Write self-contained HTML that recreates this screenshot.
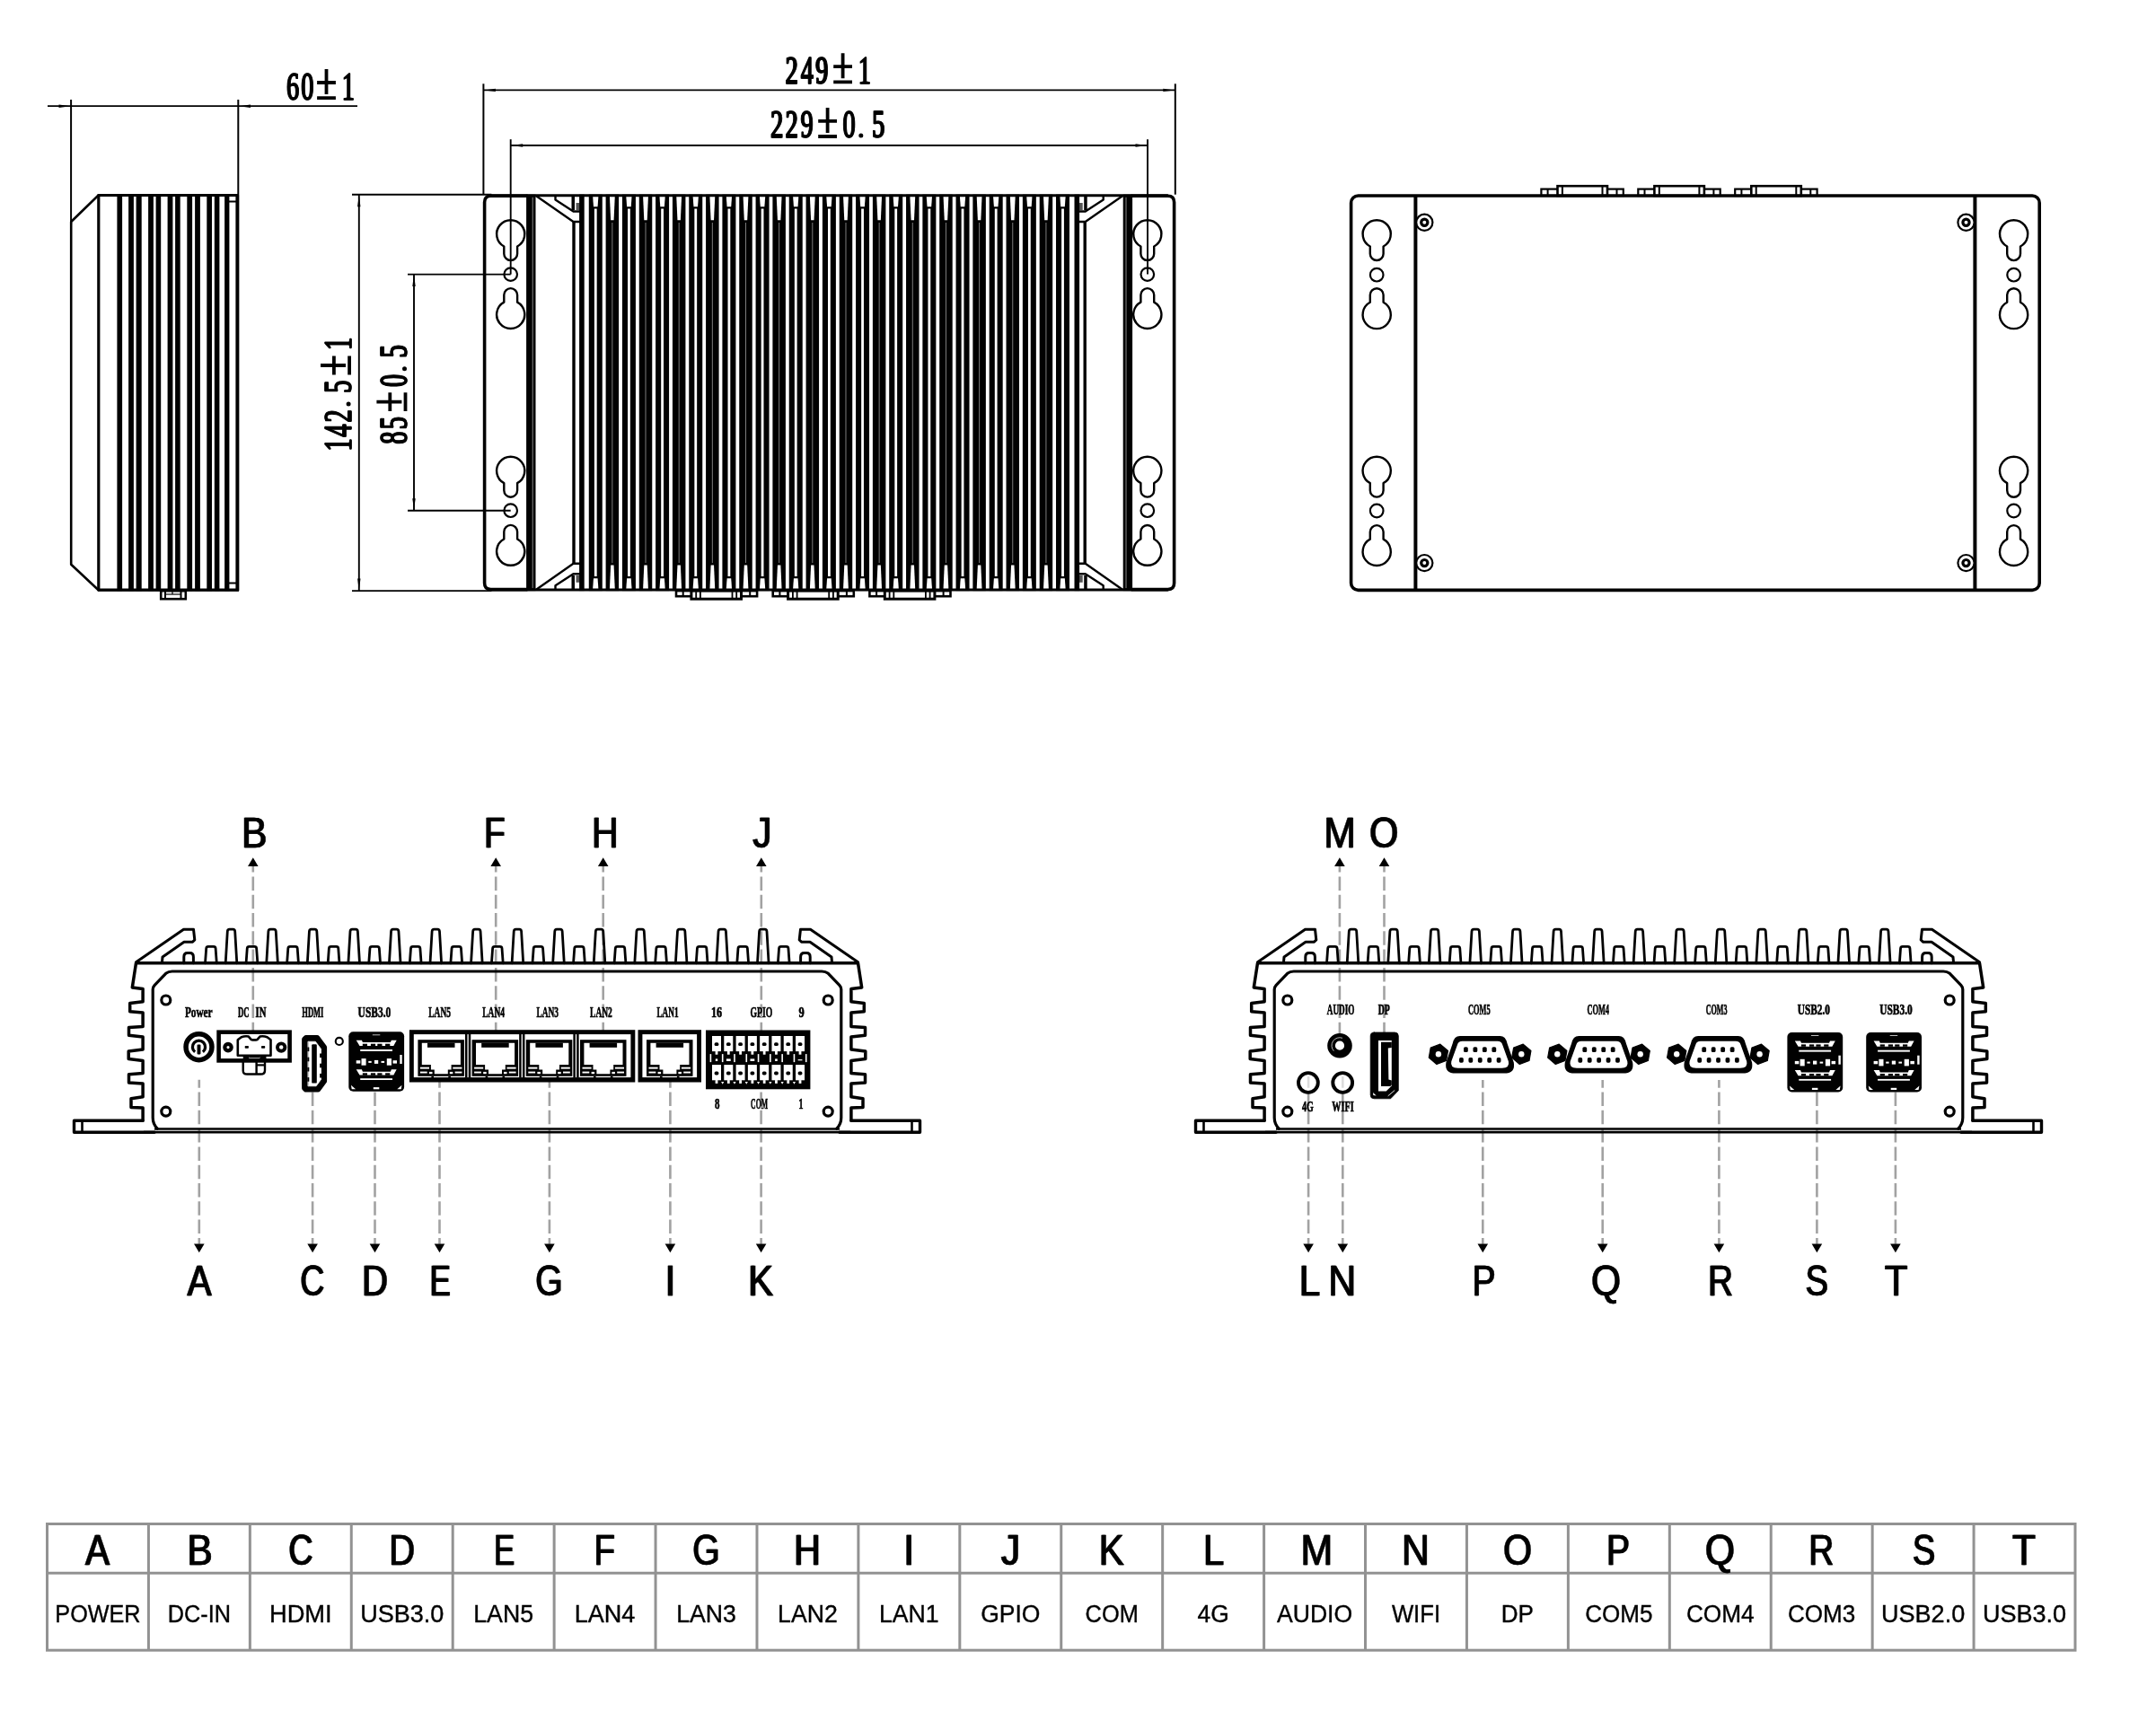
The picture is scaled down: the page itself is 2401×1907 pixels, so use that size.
<!DOCTYPE html>
<html><head><meta charset="utf-8"><title>Dimensions</title>
<style>html,body{margin:0;padding:0;background:#fff;}svg{display:block;font-family:"Liberation Sans",sans-serif;}</style>
</head><body>
<svg width="2401" height="1907" viewBox="0 0 2401 1907">
<rect width="2401" height="1907" fill="#fff"/>
<g opacity="0.999">
<line x1="53" y1="118.2" x2="398" y2="118.2" stroke="#000" stroke-width="1.8" />
<line x1="79.1" y1="111" x2="79.1" y2="250" stroke="#000" stroke-width="2" />
<line x1="265.3" y1="111" x2="265.3" y2="216.5" stroke="#000" stroke-width="2" />
<path d="M78.5 118.2 L65.5 116.5 L65.5 119.9 Z" fill="#000" stroke="none" stroke-width="0" stroke-linejoin="round" stroke-linecap="round" />
<path d="M266 118.2 L279 116.5 L279 119.9 Z" fill="#000" stroke="none" stroke-width="0" stroke-linejoin="round" stroke-linecap="round" />
<path d="M79.2 247 L109.6 217.5 L264.8 217.5 L264.8 657.2 L109.6 657.2 L79.2 628.8 Z" fill="none" stroke="#000" stroke-width="2.6" stroke-linejoin="round" stroke-linecap="round" />
<line x1="109.8" y1="216.5" x2="109.8" y2="658.2" stroke="#000" stroke-width="3.2" />
<line x1="109" y1="217.5" x2="266" y2="217.5" stroke="#000" stroke-width="3.2" />
<line x1="109" y1="657.2" x2="266" y2="657.2" stroke="#000" stroke-width="3.2" />
<rect x="130.4" y="216.5" width="5.7" height="441.7" fill="#000" stroke="none" stroke-width="0" rx="0" />
<rect x="143.1" y="216.5" width="5.8" height="441.7" fill="#000" stroke="none" stroke-width="0" rx="0" />
<rect x="151.6" y="216.5" width="6.1" height="441.7" fill="#000" stroke="none" stroke-width="0" rx="0" />
<rect x="165.1" y="216.5" width="5.8" height="441.7" fill="#000" stroke="none" stroke-width="0" rx="0" />
<rect x="173.6" y="216.5" width="5.6" height="441.7" fill="#000" stroke="none" stroke-width="0" rx="0" />
<rect x="186.6" y="216.5" width="5.8" height="441.7" fill="#000" stroke="none" stroke-width="0" rx="0" />
<rect x="195.1" y="216.5" width="5.6" height="441.7" fill="#000" stroke="none" stroke-width="0" rx="0" />
<rect x="208.3" y="216.5" width="5.8" height="441.7" fill="#000" stroke="none" stroke-width="0" rx="0" />
<rect x="217.1" y="216.5" width="5.8" height="441.7" fill="#000" stroke="none" stroke-width="0" rx="0" />
<rect x="230.3" y="216.5" width="5.7" height="441.7" fill="#000" stroke="none" stroke-width="0" rx="0" />
<rect x="238.8" y="216.5" width="5.6" height="441.7" fill="#000" stroke="none" stroke-width="0" rx="0" />
<rect x="250.1" y="216.5" width="5.3" height="441.7" fill="#000" stroke="none" stroke-width="0" rx="0" />
<rect x="262.4" y="216.5" width="3.9" height="441.7" fill="#000" stroke="none" stroke-width="0" rx="0" />
<line x1="255" y1="224.5" x2="264" y2="224.5" stroke="#000" stroke-width="2" />
<line x1="255" y1="649.5" x2="264" y2="649.5" stroke="#000" stroke-width="2" />
<rect x="179.2" y="658.2" width="27.6" height="9" fill="#fff" stroke="#000" stroke-width="2.6" rx="0" />
<line x1="184" y1="658.2" x2="184" y2="667" stroke="#000" stroke-width="2" />
<line x1="201.5" y1="658.2" x2="201.5" y2="667" stroke="#000" stroke-width="2" />
<line x1="184" y1="662" x2="201.5" y2="662" stroke="#000" stroke-width="1.2" />
<line x1="192" y1="658.2" x2="192" y2="662" stroke="#000" stroke-width="1.2" />
<text transform="translate(325.6 110.6) scale(0.615 1)" text-anchor="middle" font-family="Liberation Serif" font-size="45.3" fill="#000" stroke="#000" stroke-width="1.4" stroke-linejoin="round">6</text>
<text transform="translate(326.4 110.6) scale(0.615 1)" text-anchor="middle" font-family="Liberation Serif" font-size="45.3" fill="#000" stroke="#000" stroke-width="1.4" stroke-linejoin="round">6</text>
<text transform="translate(342 110.6) scale(0.615 1)" text-anchor="middle" font-family="Liberation Serif" font-size="45.3" fill="#000" stroke="#000" stroke-width="1.4" stroke-linejoin="round">0</text>
<text transform="translate(342.8 110.6) scale(0.615 1)" text-anchor="middle" font-family="Liberation Serif" font-size="45.3" fill="#000" stroke="#000" stroke-width="1.4" stroke-linejoin="round">0</text>
<path d="M353.1 92 H373.9 M363.5 77.1 V105.1 M353.1 109.2 H373.9" stroke="#000" stroke-width="3.8" fill="none"/>
<text transform="translate(387.4 110.6) scale(0.615 1)" text-anchor="middle" font-family="Liberation Serif" font-size="45.3" fill="#000" stroke="#000" stroke-width="1.4" stroke-linejoin="round">1</text>
<text transform="translate(388.2 110.6) scale(0.615 1)" text-anchor="middle" font-family="Liberation Serif" font-size="45.3" fill="#000" stroke="#000" stroke-width="1.4" stroke-linejoin="round">1</text>
<line x1="538.4" y1="93.3" x2="538.4" y2="216.7" stroke="#000" stroke-width="2" />
<line x1="1308.8" y1="93.3" x2="1308.8" y2="216.7" stroke="#000" stroke-width="2" />
<line x1="538.4" y1="100.4" x2="1308.8" y2="100.4" stroke="#000" stroke-width="1.9" />
<path d="M538.9 100.4 L551.9 98.7 L551.9 102.1 Z" fill="#000" stroke="none" stroke-width="0" stroke-linejoin="round" stroke-linecap="round" />
<path d="M1308.3 100.4 L1295.3 98.7 L1295.3 102.1 Z" fill="#000" stroke="none" stroke-width="0" stroke-linejoin="round" stroke-linecap="round" />
<line x1="568.7" y1="155.2" x2="568.7" y2="305.6" stroke="#000" stroke-width="1.9" />
<line x1="1278" y1="155.2" x2="1278" y2="305.6" stroke="#000" stroke-width="1.9" />
<line x1="568.7" y1="162" x2="1278" y2="162" stroke="#000" stroke-width="1.9" />
<path d="M569.2 162 L582.2 160.3 L582.2 163.7 Z" fill="#000" stroke="none" stroke-width="0" stroke-linejoin="round" stroke-linecap="round" />
<path d="M1277.5 162 L1264.5 160.3 L1264.5 163.7 Z" fill="#000" stroke="none" stroke-width="0" stroke-linejoin="round" stroke-linecap="round" />
<line x1="392" y1="216.7" x2="547.4" y2="216.7" stroke="#000" stroke-width="1.9" />
<line x1="392" y1="658.1" x2="547.4" y2="658.1" stroke="#000" stroke-width="1.9" />
<line x1="399.8" y1="216.7" x2="399.8" y2="658.1" stroke="#000" stroke-width="1.9" />
<path d="M399.8 217.2 L398.1 230.2 L401.5 230.2 Z" fill="#000" stroke="none" stroke-width="0" stroke-linejoin="round" stroke-linecap="round" />
<path d="M399.8 657.6 L398.1 644.6 L401.5 644.6 Z" fill="#000" stroke="none" stroke-width="0" stroke-linejoin="round" stroke-linecap="round" />
<line x1="454" y1="305.6" x2="568.7" y2="305.6" stroke="#000" stroke-width="1.9" />
<line x1="454" y1="568.7" x2="568.7" y2="568.7" stroke="#000" stroke-width="1.9" />
<line x1="461" y1="305.6" x2="461" y2="568.7" stroke="#000" stroke-width="1.9" />
<path d="M461 306 L459.3 319 L462.7 319 Z" fill="#000" stroke="none" stroke-width="0" stroke-linejoin="round" stroke-linecap="round" />
<path d="M461 568.3 L459.3 555.3 L462.7 555.3 Z" fill="#000" stroke="none" stroke-width="0" stroke-linejoin="round" stroke-linecap="round" />
<path d="M587 218.2 H546.6 Q539.6 218.2 539.6 225.2 V649.6 Q539.6 656.6 546.6 656.6 H587" fill="none" stroke="#000" stroke-width="3.6" stroke-linejoin="round" stroke-linecap="round" />
<rect x="586.1" y="216.7" width="10.4" height="441.4" fill="#000" stroke="none" stroke-width="0" rx="0" />
<line x1="593.2" y1="219.7" x2="593.2" y2="655.1" stroke="#8a8a8a" stroke-width="1" />
<path d="M576.1 274.53 A15.6 15.6 0 1 0 561.3 274.53 L561.3 282.7 A7.4 7.4 0 0 0 576.1 282.7 Z" fill="none" stroke="#000" stroke-width="2.4" stroke-linejoin="round" stroke-linecap="round" />
<circle cx="568.7" cy="305.6" r="7.3" fill="none" stroke="#000" stroke-width="2.2"/>
<path d="M576.1 336.67 A15.6 15.6 0 1 1 561.3 336.67 L561.3 328.5 A7.4 7.4 0 0 1 576.1 328.5 Z" fill="none" stroke="#000" stroke-width="2.4" stroke-linejoin="round" stroke-linecap="round" />
<path d="M576.1 538.13 A15.6 15.6 0 1 0 561.3 538.13 L561.3 546.3 A7.4 7.4 0 0 0 576.1 546.3 Z" fill="none" stroke="#000" stroke-width="2.4" stroke-linejoin="round" stroke-linecap="round" />
<circle cx="568.7" cy="568.7" r="7.3" fill="none" stroke="#000" stroke-width="2.2"/>
<path d="M576.1 600.47 A15.6 15.6 0 1 1 561.3 600.47 L561.3 592.3 A7.4 7.4 0 0 1 576.1 592.3 Z" fill="none" stroke="#000" stroke-width="2.4" stroke-linejoin="round" stroke-linecap="round" />
<path d="M597.5 218.4 L638.5 247 L646 247" fill="none" stroke="#000" stroke-width="2.4" stroke-linejoin="round" stroke-linecap="round" />
<path d="M618.5 218.4 L618.5 222.5 L638.5 235.5 L646 235.5" fill="none" stroke="#000" stroke-width="2.4" stroke-linejoin="round" stroke-linecap="round" />
<rect x="636.5" y="218" width="3.5" height="16" fill="#000" stroke="none" stroke-width="0" rx="0" />
<rect x="641.5" y="226" width="4" height="8" fill="#555" stroke="none" stroke-width="0" rx="0" />
<path d="M597.5 656.4 L638.5 627.8 L646 627.8" fill="none" stroke="#000" stroke-width="2.4" stroke-linejoin="round" stroke-linecap="round" />
<path d="M618.5 656.4 L618.5 652.3 L638.5 639.3 L646 639.3" fill="none" stroke="#000" stroke-width="2.4" stroke-linejoin="round" stroke-linecap="round" />
<rect x="636.5" y="640.8" width="3.5" height="16" fill="#000" stroke="none" stroke-width="0" rx="0" />
<rect x="641.5" y="640.8" width="4" height="8" fill="#555" stroke="none" stroke-width="0" rx="0" />
<path d="M1260.2 218.2 H1300.6 Q1307.6 218.2 1307.6 225.2 V649.6 Q1307.6 656.6 1300.6 656.6 H1260.2" fill="none" stroke="#000" stroke-width="3.6" stroke-linejoin="round" stroke-linecap="round" />
<rect x="1250.7" y="216.7" width="10.4" height="441.4" fill="#000" stroke="none" stroke-width="0" rx="0" />
<line x1="1254" y1="219.7" x2="1254" y2="655.1" stroke="#8a8a8a" stroke-width="1" />
<path d="M1285.2 274.53 A15.6 15.6 0 1 0 1270.4 274.53 L1270.4 282.7 A7.4 7.4 0 0 0 1285.2 282.7 Z" fill="none" stroke="#000" stroke-width="2.4" stroke-linejoin="round" stroke-linecap="round" />
<circle cx="1277.8" cy="305.6" r="7.3" fill="none" stroke="#000" stroke-width="2.2"/>
<path d="M1285.2 336.67 A15.6 15.6 0 1 1 1270.4 336.67 L1270.4 328.5 A7.4 7.4 0 0 1 1285.2 328.5 Z" fill="none" stroke="#000" stroke-width="2.4" stroke-linejoin="round" stroke-linecap="round" />
<path d="M1285.2 538.13 A15.6 15.6 0 1 0 1270.4 538.13 L1270.4 546.3 A7.4 7.4 0 0 0 1285.2 546.3 Z" fill="none" stroke="#000" stroke-width="2.4" stroke-linejoin="round" stroke-linecap="round" />
<circle cx="1277.8" cy="568.7" r="7.3" fill="none" stroke="#000" stroke-width="2.2"/>
<path d="M1285.2 600.47 A15.6 15.6 0 1 1 1270.4 600.47 L1270.4 592.3 A7.4 7.4 0 0 1 1285.2 592.3 Z" fill="none" stroke="#000" stroke-width="2.4" stroke-linejoin="round" stroke-linecap="round" />
<path d="M1249.7 218.4 L1208.7 247 L1201.2 247" fill="none" stroke="#000" stroke-width="2.4" stroke-linejoin="round" stroke-linecap="round" />
<path d="M1228.7 218.4 L1228.7 222.5 L1208.7 235.5 L1201.2 235.5" fill="none" stroke="#000" stroke-width="2.4" stroke-linejoin="round" stroke-linecap="round" />
<rect x="1207.2" y="218" width="3.5" height="16" fill="#000" stroke="none" stroke-width="0" rx="0" />
<rect x="1201.7" y="226" width="4" height="8" fill="#555" stroke="none" stroke-width="0" rx="0" />
<path d="M1249.7 656.4 L1208.7 627.8 L1201.2 627.8" fill="none" stroke="#000" stroke-width="2.4" stroke-linejoin="round" stroke-linecap="round" />
<path d="M1228.7 656.4 L1228.7 652.3 L1208.7 639.3 L1201.2 639.3" fill="none" stroke="#000" stroke-width="2.4" stroke-linejoin="round" stroke-linecap="round" />
<rect x="1207.2" y="640.8" width="3.5" height="16" fill="#000" stroke="none" stroke-width="0" rx="0" />
<rect x="1201.7" y="640.8" width="4" height="8" fill="#555" stroke="none" stroke-width="0" rx="0" />
<line x1="546.4" y1="217.7" x2="1300.8" y2="217.7" stroke="#000" stroke-width="3" />
<line x1="546.4" y1="657.1" x2="1300.8" y2="657.1" stroke="#000" stroke-width="3" />
<rect x="637.3" y="247" width="3.4" height="381" fill="#000" stroke="none" stroke-width="0" rx="0" />
<rect x="645.1" y="216.7" width="5.6" height="441.4" fill="#000" stroke="none" stroke-width="0" rx="0" />
<rect x="1206.5" y="247" width="3.4" height="381" fill="#000" stroke="none" stroke-width="0" rx="0" />
<rect x="1196.5" y="216.7" width="5.6" height="441.4" fill="#000" stroke="none" stroke-width="0" rx="0" />
<rect x="674.6" y="216.7" width="14.5" height="441.4" fill="#000" stroke="none" stroke-width="0" rx="0" />
<path d="M678.95 219.2 L684.75 219.2 L683.55 245.2 L680.15 245.2 Z" fill="#fff" stroke="none" stroke-width="0" stroke-linejoin="round" stroke-linecap="round" />
<path d="M678.95 655.6 L684.75 655.6 L683.55 629.4 L680.15 629.4 Z" fill="#fff" stroke="none" stroke-width="0" stroke-linejoin="round" stroke-linecap="round" />
<line x1="681.85" y1="248" x2="681.85" y2="627" stroke="#8c8c8c" stroke-width="0.9" />
<rect x="711.76" y="216.7" width="14.5" height="441.4" fill="#000" stroke="none" stroke-width="0" rx="0" />
<path d="M716.11 219.2 L721.91 219.2 L720.71 245.2 L717.31 245.2 Z" fill="#fff" stroke="none" stroke-width="0" stroke-linejoin="round" stroke-linecap="round" />
<path d="M716.11 655.6 L721.91 655.6 L720.71 629.4 L717.31 629.4 Z" fill="#fff" stroke="none" stroke-width="0" stroke-linejoin="round" stroke-linecap="round" />
<line x1="719.01" y1="248" x2="719.01" y2="627" stroke="#8c8c8c" stroke-width="0.9" />
<rect x="748.92" y="216.7" width="14.5" height="441.4" fill="#000" stroke="none" stroke-width="0" rx="0" />
<path d="M753.27 219.2 L759.07 219.2 L757.87 245.2 L754.47 245.2 Z" fill="#fff" stroke="none" stroke-width="0" stroke-linejoin="round" stroke-linecap="round" />
<path d="M753.27 655.6 L759.07 655.6 L757.87 629.4 L754.47 629.4 Z" fill="#fff" stroke="none" stroke-width="0" stroke-linejoin="round" stroke-linecap="round" />
<line x1="756.17" y1="248" x2="756.17" y2="627" stroke="#8c8c8c" stroke-width="0.9" />
<rect x="786.08" y="216.7" width="14.5" height="441.4" fill="#000" stroke="none" stroke-width="0" rx="0" />
<path d="M790.43 219.2 L796.23 219.2 L795.03 245.2 L791.63 245.2 Z" fill="#fff" stroke="none" stroke-width="0" stroke-linejoin="round" stroke-linecap="round" />
<path d="M790.43 655.6 L796.23 655.6 L795.03 629.4 L791.63 629.4 Z" fill="#fff" stroke="none" stroke-width="0" stroke-linejoin="round" stroke-linecap="round" />
<line x1="793.33" y1="248" x2="793.33" y2="627" stroke="#8c8c8c" stroke-width="0.9" />
<rect x="823.24" y="216.7" width="14.5" height="441.4" fill="#000" stroke="none" stroke-width="0" rx="0" />
<path d="M827.59 219.2 L833.39 219.2 L832.19 245.2 L828.79 245.2 Z" fill="#fff" stroke="none" stroke-width="0" stroke-linejoin="round" stroke-linecap="round" />
<path d="M827.59 655.6 L833.39 655.6 L832.19 629.4 L828.79 629.4 Z" fill="#fff" stroke="none" stroke-width="0" stroke-linejoin="round" stroke-linecap="round" />
<line x1="830.49" y1="248" x2="830.49" y2="627" stroke="#8c8c8c" stroke-width="0.9" />
<rect x="860.4" y="216.7" width="14.5" height="441.4" fill="#000" stroke="none" stroke-width="0" rx="0" />
<path d="M864.75 219.2 L870.55 219.2 L869.35 245.2 L865.95 245.2 Z" fill="#fff" stroke="none" stroke-width="0" stroke-linejoin="round" stroke-linecap="round" />
<path d="M864.75 655.6 L870.55 655.6 L869.35 629.4 L865.95 629.4 Z" fill="#fff" stroke="none" stroke-width="0" stroke-linejoin="round" stroke-linecap="round" />
<line x1="867.65" y1="248" x2="867.65" y2="627" stroke="#8c8c8c" stroke-width="0.9" />
<rect x="897.56" y="216.7" width="14.5" height="441.4" fill="#000" stroke="none" stroke-width="0" rx="0" />
<path d="M901.91 219.2 L907.71 219.2 L906.51 245.2 L903.11 245.2 Z" fill="#fff" stroke="none" stroke-width="0" stroke-linejoin="round" stroke-linecap="round" />
<path d="M901.91 655.6 L907.71 655.6 L906.51 629.4 L903.11 629.4 Z" fill="#fff" stroke="none" stroke-width="0" stroke-linejoin="round" stroke-linecap="round" />
<line x1="904.81" y1="248" x2="904.81" y2="627" stroke="#8c8c8c" stroke-width="0.9" />
<rect x="934.72" y="216.7" width="14.5" height="441.4" fill="#000" stroke="none" stroke-width="0" rx="0" />
<path d="M939.07 219.2 L944.87 219.2 L943.67 245.2 L940.27 245.2 Z" fill="#fff" stroke="none" stroke-width="0" stroke-linejoin="round" stroke-linecap="round" />
<path d="M939.07 655.6 L944.87 655.6 L943.67 629.4 L940.27 629.4 Z" fill="#fff" stroke="none" stroke-width="0" stroke-linejoin="round" stroke-linecap="round" />
<line x1="941.97" y1="248" x2="941.97" y2="627" stroke="#8c8c8c" stroke-width="0.9" />
<rect x="971.88" y="216.7" width="14.5" height="441.4" fill="#000" stroke="none" stroke-width="0" rx="0" />
<path d="M976.23 219.2 L982.03 219.2 L980.83 245.2 L977.43 245.2 Z" fill="#fff" stroke="none" stroke-width="0" stroke-linejoin="round" stroke-linecap="round" />
<path d="M976.23 655.6 L982.03 655.6 L980.83 629.4 L977.43 629.4 Z" fill="#fff" stroke="none" stroke-width="0" stroke-linejoin="round" stroke-linecap="round" />
<line x1="979.13" y1="248" x2="979.13" y2="627" stroke="#8c8c8c" stroke-width="0.9" />
<rect x="1009.04" y="216.7" width="14.5" height="441.4" fill="#000" stroke="none" stroke-width="0" rx="0" />
<path d="M1013.39 219.2 L1019.19 219.2 L1017.99 245.2 L1014.59 245.2 Z" fill="#fff" stroke="none" stroke-width="0" stroke-linejoin="round" stroke-linecap="round" />
<path d="M1013.39 655.6 L1019.19 655.6 L1017.99 629.4 L1014.59 629.4 Z" fill="#fff" stroke="none" stroke-width="0" stroke-linejoin="round" stroke-linecap="round" />
<line x1="1016.29" y1="248" x2="1016.29" y2="627" stroke="#8c8c8c" stroke-width="0.9" />
<rect x="1046.2" y="216.7" width="14.5" height="441.4" fill="#000" stroke="none" stroke-width="0" rx="0" />
<path d="M1050.55 219.2 L1056.35 219.2 L1055.15 245.2 L1051.75 245.2 Z" fill="#fff" stroke="none" stroke-width="0" stroke-linejoin="round" stroke-linecap="round" />
<path d="M1050.55 655.6 L1056.35 655.6 L1055.15 629.4 L1051.75 629.4 Z" fill="#fff" stroke="none" stroke-width="0" stroke-linejoin="round" stroke-linecap="round" />
<line x1="1053.45" y1="248" x2="1053.45" y2="627" stroke="#8c8c8c" stroke-width="0.9" />
<rect x="1083.36" y="216.7" width="14.5" height="441.4" fill="#000" stroke="none" stroke-width="0" rx="0" />
<path d="M1087.71 219.2 L1093.51 219.2 L1092.31 245.2 L1088.91 245.2 Z" fill="#fff" stroke="none" stroke-width="0" stroke-linejoin="round" stroke-linecap="round" />
<path d="M1087.71 655.6 L1093.51 655.6 L1092.31 629.4 L1088.91 629.4 Z" fill="#fff" stroke="none" stroke-width="0" stroke-linejoin="round" stroke-linecap="round" />
<line x1="1090.61" y1="248" x2="1090.61" y2="627" stroke="#8c8c8c" stroke-width="0.9" />
<rect x="1120.52" y="216.7" width="14.5" height="441.4" fill="#000" stroke="none" stroke-width="0" rx="0" />
<path d="M1124.87 219.2 L1130.67 219.2 L1129.47 245.2 L1126.07 245.2 Z" fill="#fff" stroke="none" stroke-width="0" stroke-linejoin="round" stroke-linecap="round" />
<path d="M1124.87 655.6 L1130.67 655.6 L1129.47 629.4 L1126.07 629.4 Z" fill="#fff" stroke="none" stroke-width="0" stroke-linejoin="round" stroke-linecap="round" />
<line x1="1127.77" y1="248" x2="1127.77" y2="627" stroke="#8c8c8c" stroke-width="0.9" />
<rect x="1157.68" y="216.7" width="14.5" height="441.4" fill="#000" stroke="none" stroke-width="0" rx="0" />
<path d="M1162.03 219.2 L1167.83 219.2 L1166.63 245.2 L1163.23 245.2 Z" fill="#fff" stroke="none" stroke-width="0" stroke-linejoin="round" stroke-linecap="round" />
<path d="M1162.03 655.6 L1167.83 655.6 L1166.63 629.4 L1163.23 629.4 Z" fill="#fff" stroke="none" stroke-width="0" stroke-linejoin="round" stroke-linecap="round" />
<line x1="1164.93" y1="248" x2="1164.93" y2="627" stroke="#8c8c8c" stroke-width="0.9" />
<rect x="655.77" y="216.7" width="15" height="441.4" fill="#000" stroke="none" stroke-width="0" rx="0" />
<rect x="661.87" y="232.5" width="2.8" height="409.5" fill="#fff" stroke="none" stroke-width="0" rx="0" />
<path d="M660.17 219.2 L666.37 219.2 L665.57 230.3 L660.97 230.3 Z" fill="#fff" stroke="none" stroke-width="0" stroke-linejoin="round" stroke-linecap="round" />
<path d="M660.17 655.6 L666.37 655.6 L665.57 644.2 L660.97 644.2 Z" fill="#fff" stroke="none" stroke-width="0" stroke-linejoin="round" stroke-linecap="round" />
<rect x="692.93" y="216.7" width="15" height="441.4" fill="#000" stroke="none" stroke-width="0" rx="0" />
<rect x="699.03" y="232.5" width="2.8" height="409.5" fill="#fff" stroke="none" stroke-width="0" rx="0" />
<path d="M697.33 219.2 L703.53 219.2 L702.73 230.3 L698.13 230.3 Z" fill="#fff" stroke="none" stroke-width="0" stroke-linejoin="round" stroke-linecap="round" />
<path d="M697.33 655.6 L703.53 655.6 L702.73 644.2 L698.13 644.2 Z" fill="#fff" stroke="none" stroke-width="0" stroke-linejoin="round" stroke-linecap="round" />
<rect x="730.09" y="216.7" width="15" height="441.4" fill="#000" stroke="none" stroke-width="0" rx="0" />
<rect x="736.19" y="232.5" width="2.8" height="409.5" fill="#fff" stroke="none" stroke-width="0" rx="0" />
<path d="M734.49 219.2 L740.69 219.2 L739.89 230.3 L735.29 230.3 Z" fill="#fff" stroke="none" stroke-width="0" stroke-linejoin="round" stroke-linecap="round" />
<path d="M734.49 655.6 L740.69 655.6 L739.89 644.2 L735.29 644.2 Z" fill="#fff" stroke="none" stroke-width="0" stroke-linejoin="round" stroke-linecap="round" />
<rect x="767.25" y="216.7" width="15" height="441.4" fill="#000" stroke="none" stroke-width="0" rx="0" />
<rect x="773.35" y="232.5" width="2.8" height="409.5" fill="#fff" stroke="none" stroke-width="0" rx="0" />
<path d="M771.65 219.2 L777.85 219.2 L777.05 230.3 L772.45 230.3 Z" fill="#fff" stroke="none" stroke-width="0" stroke-linejoin="round" stroke-linecap="round" />
<path d="M771.65 655.6 L777.85 655.6 L777.05 644.2 L772.45 644.2 Z" fill="#fff" stroke="none" stroke-width="0" stroke-linejoin="round" stroke-linecap="round" />
<rect x="804.41" y="216.7" width="15" height="441.4" fill="#000" stroke="none" stroke-width="0" rx="0" />
<rect x="810.51" y="232.5" width="2.8" height="409.5" fill="#fff" stroke="none" stroke-width="0" rx="0" />
<path d="M808.81 219.2 L815.01 219.2 L814.21 230.3 L809.61 230.3 Z" fill="#fff" stroke="none" stroke-width="0" stroke-linejoin="round" stroke-linecap="round" />
<path d="M808.81 655.6 L815.01 655.6 L814.21 644.2 L809.61 644.2 Z" fill="#fff" stroke="none" stroke-width="0" stroke-linejoin="round" stroke-linecap="round" />
<rect x="841.57" y="216.7" width="15" height="441.4" fill="#000" stroke="none" stroke-width="0" rx="0" />
<rect x="847.67" y="232.5" width="2.8" height="409.5" fill="#fff" stroke="none" stroke-width="0" rx="0" />
<path d="M845.97 219.2 L852.17 219.2 L851.37 230.3 L846.77 230.3 Z" fill="#fff" stroke="none" stroke-width="0" stroke-linejoin="round" stroke-linecap="round" />
<path d="M845.97 655.6 L852.17 655.6 L851.37 644.2 L846.77 644.2 Z" fill="#fff" stroke="none" stroke-width="0" stroke-linejoin="round" stroke-linecap="round" />
<rect x="878.73" y="216.7" width="15" height="441.4" fill="#000" stroke="none" stroke-width="0" rx="0" />
<rect x="884.83" y="232.5" width="2.8" height="409.5" fill="#fff" stroke="none" stroke-width="0" rx="0" />
<path d="M883.13 219.2 L889.33 219.2 L888.53 230.3 L883.93 230.3 Z" fill="#fff" stroke="none" stroke-width="0" stroke-linejoin="round" stroke-linecap="round" />
<path d="M883.13 655.6 L889.33 655.6 L888.53 644.2 L883.93 644.2 Z" fill="#fff" stroke="none" stroke-width="0" stroke-linejoin="round" stroke-linecap="round" />
<rect x="915.89" y="216.7" width="15" height="441.4" fill="#000" stroke="none" stroke-width="0" rx="0" />
<rect x="921.99" y="232.5" width="2.8" height="409.5" fill="#fff" stroke="none" stroke-width="0" rx="0" />
<path d="M920.29 219.2 L926.49 219.2 L925.69 230.3 L921.09 230.3 Z" fill="#fff" stroke="none" stroke-width="0" stroke-linejoin="round" stroke-linecap="round" />
<path d="M920.29 655.6 L926.49 655.6 L925.69 644.2 L921.09 644.2 Z" fill="#fff" stroke="none" stroke-width="0" stroke-linejoin="round" stroke-linecap="round" />
<rect x="953.05" y="216.7" width="15" height="441.4" fill="#000" stroke="none" stroke-width="0" rx="0" />
<rect x="959.15" y="232.5" width="2.8" height="409.5" fill="#fff" stroke="none" stroke-width="0" rx="0" />
<path d="M957.45 219.2 L963.65 219.2 L962.85 230.3 L958.25 230.3 Z" fill="#fff" stroke="none" stroke-width="0" stroke-linejoin="round" stroke-linecap="round" />
<path d="M957.45 655.6 L963.65 655.6 L962.85 644.2 L958.25 644.2 Z" fill="#fff" stroke="none" stroke-width="0" stroke-linejoin="round" stroke-linecap="round" />
<rect x="990.21" y="216.7" width="15" height="441.4" fill="#000" stroke="none" stroke-width="0" rx="0" />
<rect x="996.31" y="232.5" width="2.8" height="409.5" fill="#fff" stroke="none" stroke-width="0" rx="0" />
<path d="M994.61 219.2 L1000.81 219.2 L1000.01 230.3 L995.41 230.3 Z" fill="#fff" stroke="none" stroke-width="0" stroke-linejoin="round" stroke-linecap="round" />
<path d="M994.61 655.6 L1000.81 655.6 L1000.01 644.2 L995.41 644.2 Z" fill="#fff" stroke="none" stroke-width="0" stroke-linejoin="round" stroke-linecap="round" />
<rect x="1027.37" y="216.7" width="15" height="441.4" fill="#000" stroke="none" stroke-width="0" rx="0" />
<rect x="1033.47" y="232.5" width="2.8" height="409.5" fill="#fff" stroke="none" stroke-width="0" rx="0" />
<path d="M1031.77 219.2 L1037.97 219.2 L1037.17 230.3 L1032.57 230.3 Z" fill="#fff" stroke="none" stroke-width="0" stroke-linejoin="round" stroke-linecap="round" />
<path d="M1031.77 655.6 L1037.97 655.6 L1037.17 644.2 L1032.57 644.2 Z" fill="#fff" stroke="none" stroke-width="0" stroke-linejoin="round" stroke-linecap="round" />
<rect x="1064.53" y="216.7" width="15" height="441.4" fill="#000" stroke="none" stroke-width="0" rx="0" />
<rect x="1070.63" y="232.5" width="2.8" height="409.5" fill="#fff" stroke="none" stroke-width="0" rx="0" />
<path d="M1068.93 219.2 L1075.13 219.2 L1074.33 230.3 L1069.73 230.3 Z" fill="#fff" stroke="none" stroke-width="0" stroke-linejoin="round" stroke-linecap="round" />
<path d="M1068.93 655.6 L1075.13 655.6 L1074.33 644.2 L1069.73 644.2 Z" fill="#fff" stroke="none" stroke-width="0" stroke-linejoin="round" stroke-linecap="round" />
<rect x="1101.69" y="216.7" width="15" height="441.4" fill="#000" stroke="none" stroke-width="0" rx="0" />
<rect x="1107.79" y="232.5" width="2.8" height="409.5" fill="#fff" stroke="none" stroke-width="0" rx="0" />
<path d="M1106.09 219.2 L1112.29 219.2 L1111.49 230.3 L1106.89 230.3 Z" fill="#fff" stroke="none" stroke-width="0" stroke-linejoin="round" stroke-linecap="round" />
<path d="M1106.09 655.6 L1112.29 655.6 L1111.49 644.2 L1106.89 644.2 Z" fill="#fff" stroke="none" stroke-width="0" stroke-linejoin="round" stroke-linecap="round" />
<rect x="1138.85" y="216.7" width="15" height="441.4" fill="#000" stroke="none" stroke-width="0" rx="0" />
<rect x="1144.95" y="232.5" width="2.8" height="409.5" fill="#fff" stroke="none" stroke-width="0" rx="0" />
<path d="M1143.25 219.2 L1149.45 219.2 L1148.65 230.3 L1144.05 230.3 Z" fill="#fff" stroke="none" stroke-width="0" stroke-linejoin="round" stroke-linecap="round" />
<path d="M1143.25 655.6 L1149.45 655.6 L1148.65 644.2 L1144.05 644.2 Z" fill="#fff" stroke="none" stroke-width="0" stroke-linejoin="round" stroke-linecap="round" />
<rect x="1176.01" y="216.7" width="15" height="441.4" fill="#000" stroke="none" stroke-width="0" rx="0" />
<rect x="1182.11" y="232.5" width="2.8" height="409.5" fill="#fff" stroke="none" stroke-width="0" rx="0" />
<path d="M1180.41 219.2 L1186.61 219.2 L1185.81 230.3 L1181.21 230.3 Z" fill="#fff" stroke="none" stroke-width="0" stroke-linejoin="round" stroke-linecap="round" />
<path d="M1180.41 655.6 L1186.61 655.6 L1185.81 644.2 L1181.21 644.2 Z" fill="#fff" stroke="none" stroke-width="0" stroke-linejoin="round" stroke-linecap="round" />
<rect x="753" y="658.1" width="90.1" height="6.1" fill="#fff" stroke="#000" stroke-width="2.6" rx="0" />
<rect x="769.9" y="658.1" width="55.6" height="9.1" fill="#fff" stroke="#000" stroke-width="3" rx="0" />
<line x1="760.7" y1="658.1" x2="760.7" y2="664" stroke="#000" stroke-width="2" />
<line x1="835.2" y1="658.1" x2="835.2" y2="664" stroke="#000" stroke-width="2" />
<line x1="775.2" y1="659.1" x2="775.2" y2="667" stroke="#000" stroke-width="1.8" />
<line x1="779.9" y1="659.1" x2="779.9" y2="667" stroke="#000" stroke-width="1.8" />
<line x1="815.5" y1="659.1" x2="815.5" y2="667" stroke="#000" stroke-width="1.8" />
<line x1="820.2" y1="659.1" x2="820.2" y2="667" stroke="#000" stroke-width="1.8" />
<rect x="860.7" y="658.1" width="90.1" height="6.1" fill="#fff" stroke="#000" stroke-width="2.6" rx="0" />
<rect x="877.6" y="658.1" width="55.6" height="9.1" fill="#fff" stroke="#000" stroke-width="3" rx="0" />
<line x1="868.4" y1="658.1" x2="868.4" y2="664" stroke="#000" stroke-width="2" />
<line x1="942.9" y1="658.1" x2="942.9" y2="664" stroke="#000" stroke-width="2" />
<line x1="882.9" y1="659.1" x2="882.9" y2="667" stroke="#000" stroke-width="1.8" />
<line x1="887.6" y1="659.1" x2="887.6" y2="667" stroke="#000" stroke-width="1.8" />
<line x1="923.2" y1="659.1" x2="923.2" y2="667" stroke="#000" stroke-width="1.8" />
<line x1="927.9" y1="659.1" x2="927.9" y2="667" stroke="#000" stroke-width="1.8" />
<rect x="968.4" y="658.1" width="90.1" height="6.1" fill="#fff" stroke="#000" stroke-width="2.6" rx="0" />
<rect x="985.3" y="658.1" width="55.6" height="9.1" fill="#fff" stroke="#000" stroke-width="3" rx="0" />
<line x1="976.1" y1="658.1" x2="976.1" y2="664" stroke="#000" stroke-width="2" />
<line x1="1050.6" y1="658.1" x2="1050.6" y2="664" stroke="#000" stroke-width="2" />
<line x1="990.6" y1="659.1" x2="990.6" y2="667" stroke="#000" stroke-width="1.8" />
<line x1="995.3" y1="659.1" x2="995.3" y2="667" stroke="#000" stroke-width="1.8" />
<line x1="1030.9" y1="659.1" x2="1030.9" y2="667" stroke="#000" stroke-width="1.8" />
<line x1="1035.6" y1="659.1" x2="1035.6" y2="667" stroke="#000" stroke-width="1.8" />
<text transform="translate(881.3 92.7) scale(0.615 1)" text-anchor="middle" font-family="Liberation Serif" font-size="45.3" fill="#000" stroke="#000" stroke-width="1.4" stroke-linejoin="round">2</text>
<text transform="translate(882.1 92.7) scale(0.615 1)" text-anchor="middle" font-family="Liberation Serif" font-size="45.3" fill="#000" stroke="#000" stroke-width="1.4" stroke-linejoin="round">2</text>
<text transform="translate(898.4 92.7) scale(0.615 1)" text-anchor="middle" font-family="Liberation Serif" font-size="45.3" fill="#000" stroke="#000" stroke-width="1.4" stroke-linejoin="round">4</text>
<text transform="translate(899.2 92.7) scale(0.615 1)" text-anchor="middle" font-family="Liberation Serif" font-size="45.3" fill="#000" stroke="#000" stroke-width="1.4" stroke-linejoin="round">4</text>
<text transform="translate(914.8 92.7) scale(0.615 1)" text-anchor="middle" font-family="Liberation Serif" font-size="45.3" fill="#000" stroke="#000" stroke-width="1.4" stroke-linejoin="round">9</text>
<text transform="translate(915.6 92.7) scale(0.615 1)" text-anchor="middle" font-family="Liberation Serif" font-size="45.3" fill="#000" stroke="#000" stroke-width="1.4" stroke-linejoin="round">9</text>
<path d="M928.2 74.1 H949 M938.6 59.2 V87.2 M928.2 91.3 H949" stroke="#000" stroke-width="3.8" fill="none"/>
<text transform="translate(962.5 92.7) scale(0.615 1)" text-anchor="middle" font-family="Liberation Serif" font-size="45.3" fill="#000" stroke="#000" stroke-width="1.4" stroke-linejoin="round">1</text>
<text transform="translate(963.3 92.7) scale(0.615 1)" text-anchor="middle" font-family="Liberation Serif" font-size="45.3" fill="#000" stroke="#000" stroke-width="1.4" stroke-linejoin="round">1</text>
<text transform="translate(864.8 153.4) scale(0.615 1)" text-anchor="middle" font-family="Liberation Serif" font-size="45.3" fill="#000" stroke="#000" stroke-width="1.4" stroke-linejoin="round">2</text>
<text transform="translate(865.6 153.4) scale(0.615 1)" text-anchor="middle" font-family="Liberation Serif" font-size="45.3" fill="#000" stroke="#000" stroke-width="1.4" stroke-linejoin="round">2</text>
<text transform="translate(881.3 153.4) scale(0.615 1)" text-anchor="middle" font-family="Liberation Serif" font-size="45.3" fill="#000" stroke="#000" stroke-width="1.4" stroke-linejoin="round">2</text>
<text transform="translate(882.1 153.4) scale(0.615 1)" text-anchor="middle" font-family="Liberation Serif" font-size="45.3" fill="#000" stroke="#000" stroke-width="1.4" stroke-linejoin="round">2</text>
<text transform="translate(898.2 153.4) scale(0.615 1)" text-anchor="middle" font-family="Liberation Serif" font-size="45.3" fill="#000" stroke="#000" stroke-width="1.4" stroke-linejoin="round">9</text>
<text transform="translate(899 153.4) scale(0.615 1)" text-anchor="middle" font-family="Liberation Serif" font-size="45.3" fill="#000" stroke="#000" stroke-width="1.4" stroke-linejoin="round">9</text>
<path d="M911.2 134.8 H932 M921.6 119.9 V147.9 M911.2 152 H932" stroke="#000" stroke-width="3.8" fill="none"/>
<text transform="translate(945.1 153.4) scale(0.615 1)" text-anchor="middle" font-family="Liberation Serif" font-size="45.3" fill="#000" stroke="#000" stroke-width="1.4" stroke-linejoin="round">0</text>
<text transform="translate(945.9 153.4) scale(0.615 1)" text-anchor="middle" font-family="Liberation Serif" font-size="45.3" fill="#000" stroke="#000" stroke-width="1.4" stroke-linejoin="round">0</text>
<circle cx="958.8" cy="151" r="2.5" fill="#000"/>
<text transform="translate(977.8 153.4) scale(0.615 1)" text-anchor="middle" font-family="Liberation Serif" font-size="45.3" fill="#000" stroke="#000" stroke-width="1.4" stroke-linejoin="round">5</text>
<text transform="translate(978.6 153.4) scale(0.615 1)" text-anchor="middle" font-family="Liberation Serif" font-size="45.3" fill="#000" stroke="#000" stroke-width="1.4" stroke-linejoin="round">5</text>
<g transform="translate(390.5 495.5) rotate(-90)">
<text transform="translate(-0.4 0) scale(0.615 1)" text-anchor="middle" font-family="Liberation Serif" font-size="45.3" fill="#000" stroke="#000" stroke-width="1.4" stroke-linejoin="round">1</text>
<text transform="translate(0.4 0) scale(0.615 1)" text-anchor="middle" font-family="Liberation Serif" font-size="45.3" fill="#000" stroke="#000" stroke-width="1.4" stroke-linejoin="round">1</text>
</g>
<g transform="translate(390.5 479.6) rotate(-90)">
<text transform="translate(-0.4 0) scale(0.615 1)" text-anchor="middle" font-family="Liberation Serif" font-size="45.3" fill="#000" stroke="#000" stroke-width="1.4" stroke-linejoin="round">4</text>
<text transform="translate(0.4 0) scale(0.615 1)" text-anchor="middle" font-family="Liberation Serif" font-size="45.3" fill="#000" stroke="#000" stroke-width="1.4" stroke-linejoin="round">4</text>
</g>
<g transform="translate(390.5 463.5) rotate(-90)">
<text transform="translate(-0.4 0) scale(0.615 1)" text-anchor="middle" font-family="Liberation Serif" font-size="45.3" fill="#000" stroke="#000" stroke-width="1.4" stroke-linejoin="round">2</text>
<text transform="translate(0.4 0) scale(0.615 1)" text-anchor="middle" font-family="Liberation Serif" font-size="45.3" fill="#000" stroke="#000" stroke-width="1.4" stroke-linejoin="round">2</text>
</g>
<g transform="translate(390.5 450) rotate(-90)">
<circle cx="0" cy="-2.4" r="2.5" fill="#000"/>
</g>
<g transform="translate(390.5 430.6) rotate(-90)">
<text transform="translate(-0.4 0) scale(0.615 1)" text-anchor="middle" font-family="Liberation Serif" font-size="45.3" fill="#000" stroke="#000" stroke-width="1.4" stroke-linejoin="round">5</text>
<text transform="translate(0.4 0) scale(0.615 1)" text-anchor="middle" font-family="Liberation Serif" font-size="45.3" fill="#000" stroke="#000" stroke-width="1.4" stroke-linejoin="round">5</text>
</g>
<g transform="translate(390.5 407) rotate(-90)">
<path d="M-10.4 -18.6 H10.4 M0 -33.5 V-5.5 M-10.4 -1.4 H10.4" stroke="#000" stroke-width="3.8" fill="none"/>
</g>
<g transform="translate(390.5 382.9) rotate(-90)">
<text transform="translate(-0.4 0) scale(0.615 1)" text-anchor="middle" font-family="Liberation Serif" font-size="45.3" fill="#000" stroke="#000" stroke-width="1.4" stroke-linejoin="round">1</text>
<text transform="translate(0.4 0) scale(0.615 1)" text-anchor="middle" font-family="Liberation Serif" font-size="45.3" fill="#000" stroke="#000" stroke-width="1.4" stroke-linejoin="round">1</text>
</g>
<g transform="translate(452.9 487.6) rotate(-90)">
<text transform="translate(-0.4 0) scale(0.615 1)" text-anchor="middle" font-family="Liberation Serif" font-size="45.3" fill="#000" stroke="#000" stroke-width="1.4" stroke-linejoin="round">8</text>
<text transform="translate(0.4 0) scale(0.615 1)" text-anchor="middle" font-family="Liberation Serif" font-size="45.3" fill="#000" stroke="#000" stroke-width="1.4" stroke-linejoin="round">8</text>
</g>
<g transform="translate(452.9 471.2) rotate(-90)">
<text transform="translate(-0.4 0) scale(0.615 1)" text-anchor="middle" font-family="Liberation Serif" font-size="45.3" fill="#000" stroke="#000" stroke-width="1.4" stroke-linejoin="round">5</text>
<text transform="translate(0.4 0) scale(0.615 1)" text-anchor="middle" font-family="Liberation Serif" font-size="45.3" fill="#000" stroke="#000" stroke-width="1.4" stroke-linejoin="round">5</text>
</g>
<g transform="translate(452.9 447.6) rotate(-90)">
<path d="M-10.4 -18.6 H10.4 M0 -33.5 V-5.5 M-10.4 -1.4 H10.4" stroke="#000" stroke-width="3.8" fill="none"/>
</g>
<g transform="translate(452.9 424) rotate(-90)">
<text transform="translate(-0.4 0) scale(0.615 1)" text-anchor="middle" font-family="Liberation Serif" font-size="45.3" fill="#000" stroke="#000" stroke-width="1.4" stroke-linejoin="round">0</text>
<text transform="translate(0.4 0) scale(0.615 1)" text-anchor="middle" font-family="Liberation Serif" font-size="45.3" fill="#000" stroke="#000" stroke-width="1.4" stroke-linejoin="round">0</text>
</g>
<g transform="translate(452.9 410.7) rotate(-90)">
<circle cx="0" cy="-2.4" r="2.5" fill="#000"/>
</g>
<g transform="translate(452.9 391.3) rotate(-90)">
<text transform="translate(-0.4 0) scale(0.615 1)" text-anchor="middle" font-family="Liberation Serif" font-size="45.3" fill="#000" stroke="#000" stroke-width="1.4" stroke-linejoin="round">5</text>
<text transform="translate(0.4 0) scale(0.615 1)" text-anchor="middle" font-family="Liberation Serif" font-size="45.3" fill="#000" stroke="#000" stroke-width="1.4" stroke-linejoin="round">5</text>
</g>
<rect x="1716.4" y="210.6" width="91.4" height="7.4" fill="#fff" stroke="#000" stroke-width="2.2" rx="0" />
<rect x="1734.5" y="207.2" width="55.5" height="10.8" fill="#fff" stroke="#000" stroke-width="2.6" rx="0" />
<line x1="1723.6" y1="210.6" x2="1723.6" y2="218" stroke="#000" stroke-width="2" />
<line x1="1800.5" y1="210.6" x2="1800.5" y2="218" stroke="#000" stroke-width="2" />
<line x1="1739.9" y1="208" x2="1739.9" y2="218" stroke="#000" stroke-width="2" />
<line x1="1784.5" y1="208" x2="1784.5" y2="218" stroke="#000" stroke-width="2" />
<rect x="1824.3" y="210.6" width="91.4" height="7.4" fill="#fff" stroke="#000" stroke-width="2.2" rx="0" />
<rect x="1842.4" y="207.2" width="55.5" height="10.8" fill="#fff" stroke="#000" stroke-width="2.6" rx="0" />
<line x1="1831.5" y1="210.6" x2="1831.5" y2="218" stroke="#000" stroke-width="2" />
<line x1="1908.4" y1="210.6" x2="1908.4" y2="218" stroke="#000" stroke-width="2" />
<line x1="1847.8" y1="208" x2="1847.8" y2="218" stroke="#000" stroke-width="2" />
<line x1="1892.4" y1="208" x2="1892.4" y2="218" stroke="#000" stroke-width="2" />
<rect x="1932.2" y="210.6" width="91.4" height="7.4" fill="#fff" stroke="#000" stroke-width="2.2" rx="0" />
<rect x="1950.3" y="207.2" width="55.5" height="10.8" fill="#fff" stroke="#000" stroke-width="2.6" rx="0" />
<line x1="1939.4" y1="210.6" x2="1939.4" y2="218" stroke="#000" stroke-width="2" />
<line x1="2016.3" y1="210.6" x2="2016.3" y2="218" stroke="#000" stroke-width="2" />
<line x1="1955.7" y1="208" x2="1955.7" y2="218" stroke="#000" stroke-width="2" />
<line x1="2000.3" y1="208" x2="2000.3" y2="218" stroke="#000" stroke-width="2" />
<rect x="1504.6" y="218" width="766.6" height="439.4" rx="8" fill="none" stroke="#000" stroke-width="3.6"/>
<line x1="1576.4" y1="218" x2="1576.4" y2="657.4" stroke="#000" stroke-width="4" />
<path d="M1540.6 274.53 A15.6 15.6 0 1 0 1525.8 274.53 L1525.8 282.7 A7.4 7.4 0 0 0 1540.6 282.7 Z" fill="none" stroke="#000" stroke-width="2.4" stroke-linejoin="round" stroke-linecap="round" />
<circle cx="1533.2" cy="306.2" r="7.3" fill="none" stroke="#000" stroke-width="2.2"/>
<path d="M1540.6 336.77 A15.6 15.6 0 1 1 1525.8 336.77 L1525.8 328.6 A7.4 7.4 0 0 1 1540.6 328.6 Z" fill="none" stroke="#000" stroke-width="2.4" stroke-linejoin="round" stroke-linecap="round" />
<path d="M1540.6 538.13 A15.6 15.6 0 1 0 1525.8 538.13 L1525.8 546.3 A7.4 7.4 0 0 0 1540.6 546.3 Z" fill="none" stroke="#000" stroke-width="2.4" stroke-linejoin="round" stroke-linecap="round" />
<circle cx="1533.2" cy="569" r="7.3" fill="none" stroke="#000" stroke-width="2.2"/>
<path d="M1540.6 600.67 A15.6 15.6 0 1 1 1525.8 600.67 L1525.8 592.5 A7.4 7.4 0 0 1 1540.6 592.5 Z" fill="none" stroke="#000" stroke-width="2.4" stroke-linejoin="round" stroke-linecap="round" />
<circle cx="1586.3" cy="247.8" r="9.1" fill="#fff" stroke="#000" stroke-width="2.2"/>
<circle cx="1586.3" cy="247.8" r="3.6" fill="#fff" stroke="#000" stroke-width="3.2"/>
<circle cx="1586.3" cy="627.1" r="9.1" fill="#fff" stroke="#000" stroke-width="2.2"/>
<circle cx="1586.3" cy="627.1" r="3.6" fill="#fff" stroke="#000" stroke-width="3.2"/>
<line x1="2199.4" y1="218" x2="2199.4" y2="657.4" stroke="#000" stroke-width="4" />
<path d="M2250 274.53 A15.6 15.6 0 1 0 2235.2 274.53 L2235.2 282.7 A7.4 7.4 0 0 0 2250 282.7 Z" fill="none" stroke="#000" stroke-width="2.4" stroke-linejoin="round" stroke-linecap="round" />
<circle cx="2242.6" cy="306.2" r="7.3" fill="none" stroke="#000" stroke-width="2.2"/>
<path d="M2250 336.77 A15.6 15.6 0 1 1 2235.2 336.77 L2235.2 328.6 A7.4 7.4 0 0 1 2250 328.6 Z" fill="none" stroke="#000" stroke-width="2.4" stroke-linejoin="round" stroke-linecap="round" />
<path d="M2250 538.13 A15.6 15.6 0 1 0 2235.2 538.13 L2235.2 546.3 A7.4 7.4 0 0 0 2250 546.3 Z" fill="none" stroke="#000" stroke-width="2.4" stroke-linejoin="round" stroke-linecap="round" />
<circle cx="2242.6" cy="569" r="7.3" fill="none" stroke="#000" stroke-width="2.2"/>
<path d="M2250 600.67 A15.6 15.6 0 1 1 2235.2 600.67 L2235.2 592.5 A7.4 7.4 0 0 1 2250 592.5 Z" fill="none" stroke="#000" stroke-width="2.4" stroke-linejoin="round" stroke-linecap="round" />
<circle cx="2189.5" cy="247.8" r="9.1" fill="#fff" stroke="#000" stroke-width="2.2"/>
<circle cx="2189.5" cy="247.8" r="3.6" fill="#fff" stroke="#000" stroke-width="3.2"/>
<circle cx="2189.5" cy="627.1" r="9.1" fill="#fff" stroke="#000" stroke-width="2.2"/>
<circle cx="2189.5" cy="627.1" r="3.6" fill="#fff" stroke="#000" stroke-width="3.2"/>
<rect x="52.5" y="1697.5" width="2258.5" height="140.7" fill="none" stroke="#929292" stroke-width="3" rx="0" />
<line x1="52.5" y1="1752.3" x2="2311" y2="1752.3" stroke="#929292" stroke-width="3" />
<line x1="165.43" y1="1697.5" x2="165.43" y2="1838.2" stroke="#929292" stroke-width="3" />
<line x1="278.35" y1="1697.5" x2="278.35" y2="1838.2" stroke="#929292" stroke-width="3" />
<line x1="391.27" y1="1697.5" x2="391.27" y2="1838.2" stroke="#929292" stroke-width="3" />
<line x1="504.2" y1="1697.5" x2="504.2" y2="1838.2" stroke="#929292" stroke-width="3" />
<line x1="617.12" y1="1697.5" x2="617.12" y2="1838.2" stroke="#929292" stroke-width="3" />
<line x1="730.05" y1="1697.5" x2="730.05" y2="1838.2" stroke="#929292" stroke-width="3" />
<line x1="842.98" y1="1697.5" x2="842.98" y2="1838.2" stroke="#929292" stroke-width="3" />
<line x1="955.9" y1="1697.5" x2="955.9" y2="1838.2" stroke="#929292" stroke-width="3" />
<line x1="1068.82" y1="1697.5" x2="1068.82" y2="1838.2" stroke="#929292" stroke-width="3" />
<line x1="1181.75" y1="1697.5" x2="1181.75" y2="1838.2" stroke="#929292" stroke-width="3" />
<line x1="1294.67" y1="1697.5" x2="1294.67" y2="1838.2" stroke="#929292" stroke-width="3" />
<line x1="1407.6" y1="1697.5" x2="1407.6" y2="1838.2" stroke="#929292" stroke-width="3" />
<line x1="1520.52" y1="1697.5" x2="1520.52" y2="1838.2" stroke="#929292" stroke-width="3" />
<line x1="1633.45" y1="1697.5" x2="1633.45" y2="1838.2" stroke="#929292" stroke-width="3" />
<line x1="1746.38" y1="1697.5" x2="1746.38" y2="1838.2" stroke="#929292" stroke-width="3" />
<line x1="1859.3" y1="1697.5" x2="1859.3" y2="1838.2" stroke="#929292" stroke-width="3" />
<line x1="1972.22" y1="1697.5" x2="1972.22" y2="1838.2" stroke="#929292" stroke-width="3" />
<line x1="2085.15" y1="1697.5" x2="2085.15" y2="1838.2" stroke="#929292" stroke-width="3" />
<line x1="2198.07" y1="1697.5" x2="2198.07" y2="1838.2" stroke="#929292" stroke-width="3" />
<text transform="translate(108.01 1742.5) scale(0.8338 1)" x="-16.11" y="0" font-family="Liberation Sans" font-size="48.3" fill="#000" stroke="#000" stroke-width="0.5">A</text>
<text transform="translate(109.11 1742.5) scale(0.8338 1)" x="-16.11" y="0" font-family="Liberation Sans" font-size="48.3" fill="#000" stroke="#000" stroke-width="0.5">A</text>
<text x="61.36" y="1807.2" textLength="95.2" lengthAdjust="spacingAndGlyphs" font-family="Liberation Sans" font-size="28.4" fill="#000" stroke="#000" stroke-width="0.4">POWER</text>
<text transform="translate(222.54 1742.5) scale(0.8829 1)" x="-16.82" y="0" font-family="Liberation Sans" font-size="48.3" fill="#000" stroke="#000" stroke-width="0.5">B</text>
<text transform="translate(223.64 1742.5) scale(0.8829 1)" x="-16.82" y="0" font-family="Liberation Sans" font-size="48.3" fill="#000" stroke="#000" stroke-width="0.5">B</text>
<text x="186.79" y="1807.2" textLength="70.2" lengthAdjust="spacingAndGlyphs" font-family="Liberation Sans" font-size="28.4" fill="#000" stroke="#000" stroke-width="0.4">DC-IN</text>
<text transform="translate(334.66 1742.5) scale(0.7781 1)" x="-17.75" y="0" font-family="Liberation Sans" font-size="48.3" fill="#000" stroke="#000" stroke-width="0.5">C</text>
<text transform="translate(335.76 1742.5) scale(0.7781 1)" x="-17.75" y="0" font-family="Liberation Sans" font-size="48.3" fill="#000" stroke="#000" stroke-width="0.5">C</text>
<text x="299.96" y="1807.2" textLength="69.7" lengthAdjust="spacingAndGlyphs" font-family="Liberation Sans" font-size="28.4" fill="#000" stroke="#000" stroke-width="0.4">HDMI</text>
<text transform="translate(447.89 1742.5) scale(0.8284 1)" x="-18.26" y="0" font-family="Liberation Sans" font-size="48.3" fill="#000" stroke="#000" stroke-width="0.5">D</text>
<text transform="translate(448.99 1742.5) scale(0.8284 1)" x="-18.26" y="0" font-family="Liberation Sans" font-size="48.3" fill="#000" stroke="#000" stroke-width="0.5">D</text>
<text x="401.14" y="1807.2" textLength="93.2" lengthAdjust="spacingAndGlyphs" font-family="Liberation Sans" font-size="28.4" fill="#000" stroke="#000" stroke-width="0.4">USB3.0</text>
<text transform="translate(561.61 1742.5) scale(0.7181 1)" x="-17.05" y="0" font-family="Liberation Sans" font-size="48.3" fill="#000" stroke="#000" stroke-width="0.5">E</text>
<text transform="translate(562.71 1742.5) scale(0.7181 1)" x="-17.05" y="0" font-family="Liberation Sans" font-size="48.3" fill="#000" stroke="#000" stroke-width="0.5">E</text>
<text x="527.31" y="1807.2" textLength="66.7" lengthAdjust="spacingAndGlyphs" font-family="Liberation Sans" font-size="28.4" fill="#000" stroke="#000" stroke-width="0.4">LAN5</text>
<text transform="translate(673.44 1742.5) scale(0.7963 1)" x="-15.77" y="0" font-family="Liberation Sans" font-size="48.3" fill="#000" stroke="#000" stroke-width="0.5">F</text>
<text transform="translate(674.54 1742.5) scale(0.7963 1)" x="-15.77" y="0" font-family="Liberation Sans" font-size="48.3" fill="#000" stroke="#000" stroke-width="0.5">F</text>
<text x="639.74" y="1807.2" textLength="67.7" lengthAdjust="spacingAndGlyphs" font-family="Liberation Sans" font-size="28.4" fill="#000" stroke="#000" stroke-width="0.4">LAN4</text>
<text transform="translate(785.36 1742.5) scale(0.8087 1)" x="-18.19" y="0" font-family="Liberation Sans" font-size="48.3" fill="#000" stroke="#000" stroke-width="0.5">G</text>
<text transform="translate(786.46 1742.5) scale(0.8087 1)" x="-18.19" y="0" font-family="Liberation Sans" font-size="48.3" fill="#000" stroke="#000" stroke-width="0.5">G</text>
<text x="753.16" y="1807.2" textLength="66.7" lengthAdjust="spacingAndGlyphs" font-family="Liberation Sans" font-size="28.4" fill="#000" stroke="#000" stroke-width="0.4">LAN3</text>
<text transform="translate(898.49 1742.5) scale(0.8525 1)" x="-17.45" y="0" font-family="Liberation Sans" font-size="48.3" fill="#000" stroke="#000" stroke-width="0.5">H</text>
<text transform="translate(899.59 1742.5) scale(0.8525 1)" x="-17.45" y="0" font-family="Liberation Sans" font-size="48.3" fill="#000" stroke="#000" stroke-width="0.5">H</text>
<text x="866.09" y="1807.2" textLength="66.7" lengthAdjust="spacingAndGlyphs" font-family="Liberation Sans" font-size="28.4" fill="#000" stroke="#000" stroke-width="0.4">LAN2</text>
<text transform="translate(1012.01 1742.5) scale(1.0 1)" x="-6.71" y="0" font-family="Liberation Sans" font-size="48.3" fill="#000" stroke="#000" stroke-width="0.5">I</text>
<text transform="translate(1012.51 1742.5) scale(1.0 1)" x="-6.71" y="0" font-family="Liberation Sans" font-size="48.3" fill="#000" stroke="#000" stroke-width="0.5">I</text>
<text x="979.01" y="1807.2" textLength="66.7" lengthAdjust="spacingAndGlyphs" font-family="Liberation Sans" font-size="28.4" fill="#000" stroke="#000" stroke-width="0.4">LAN1</text>
<text transform="translate(1123.74 1742.5) scale(0.8833 1)" x="-10.66" y="0" font-family="Liberation Sans" font-size="48.3" fill="#000" stroke="#000" stroke-width="0.5">J</text>
<text transform="translate(1124.84 1742.5) scale(0.8833 1)" x="-10.66" y="0" font-family="Liberation Sans" font-size="48.3" fill="#000" stroke="#000" stroke-width="0.5">J</text>
<text x="1092.19" y="1807.2" textLength="66.2" lengthAdjust="spacingAndGlyphs" font-family="Liberation Sans" font-size="28.4" fill="#000" stroke="#000" stroke-width="0.4">GPIO</text>
<text transform="translate(1238.56 1742.5) scale(0.866 1)" x="-17.82" y="0" font-family="Liberation Sans" font-size="48.3" fill="#000" stroke="#000" stroke-width="0.5">K</text>
<text transform="translate(1239.66 1742.5) scale(0.866 1)" x="-17.82" y="0" font-family="Liberation Sans" font-size="48.3" fill="#000" stroke="#000" stroke-width="0.5">K</text>
<text x="1208.61" y="1807.2" textLength="59.2" lengthAdjust="spacingAndGlyphs" font-family="Liberation Sans" font-size="28.4" fill="#000" stroke="#000" stroke-width="0.4">COM</text>
<text transform="translate(1351.99 1742.5) scale(0.864 1)" x="-14.61" y="0" font-family="Liberation Sans" font-size="48.3" fill="#000" stroke="#000" stroke-width="0.5">L</text>
<text transform="translate(1353.09 1742.5) scale(0.864 1)" x="-14.61" y="0" font-family="Liberation Sans" font-size="48.3" fill="#000" stroke="#000" stroke-width="0.5">L</text>
<text x="1333.54" y="1807.2" textLength="35.2" lengthAdjust="spacingAndGlyphs" font-family="Liberation Sans" font-size="28.4" fill="#000" stroke="#000" stroke-width="0.4">4G</text>
<text transform="translate(1465.71 1742.5) scale(0.8851 1)" x="-20.12" y="0" font-family="Liberation Sans" font-size="48.3" fill="#000" stroke="#000" stroke-width="0.5">M</text>
<text transform="translate(1466.81 1742.5) scale(0.8851 1)" x="-20.12" y="0" font-family="Liberation Sans" font-size="48.3" fill="#000" stroke="#000" stroke-width="0.5">M</text>
<text x="1421.96" y="1807.2" textLength="84.2" lengthAdjust="spacingAndGlyphs" font-family="Liberation Sans" font-size="28.4" fill="#000" stroke="#000" stroke-width="0.4">AUDIO</text>
<text transform="translate(1575.94 1742.5) scale(0.8858 1)" x="-17.45" y="0" font-family="Liberation Sans" font-size="48.3" fill="#000" stroke="#000" stroke-width="0.5">N</text>
<text transform="translate(1577.04 1742.5) scale(0.8858 1)" x="-17.45" y="0" font-family="Liberation Sans" font-size="48.3" fill="#000" stroke="#000" stroke-width="0.5">N</text>
<text x="1549.89" y="1807.2" textLength="54.2" lengthAdjust="spacingAndGlyphs" font-family="Liberation Sans" font-size="28.4" fill="#000" stroke="#000" stroke-width="0.4">WIFI</text>
<text transform="translate(1689.56 1742.5) scale(0.8553 1)" x="-18.77" y="0" font-family="Liberation Sans" font-size="48.3" fill="#000" stroke="#000" stroke-width="0.5">O</text>
<text transform="translate(1690.66 1742.5) scale(0.8553 1)" x="-18.77" y="0" font-family="Liberation Sans" font-size="48.3" fill="#000" stroke="#000" stroke-width="0.5">O</text>
<text x="1671.81" y="1807.2" textLength="36.2" lengthAdjust="spacingAndGlyphs" font-family="Liberation Sans" font-size="28.4" fill="#000" stroke="#000" stroke-width="0.4">DP</text>
<text transform="translate(1801.99 1742.5) scale(0.809 1)" x="-16.82" y="0" font-family="Liberation Sans" font-size="48.3" fill="#000" stroke="#000" stroke-width="0.5">P</text>
<text transform="translate(1803.09 1742.5) scale(0.809 1)" x="-16.82" y="0" font-family="Liberation Sans" font-size="48.3" fill="#000" stroke="#000" stroke-width="0.5">P</text>
<text x="1765.24" y="1807.2" textLength="75.2" lengthAdjust="spacingAndGlyphs" font-family="Liberation Sans" font-size="28.4" fill="#000" stroke="#000" stroke-width="0.4">COM5</text>
<text transform="translate(1914.81 1742.5) scale(0.8796 1)" x="-18.77" y="0" font-family="Liberation Sans" font-size="48.3" fill="#000" stroke="#000" stroke-width="0.5">Q</text>
<text transform="translate(1915.91 1742.5) scale(0.8796 1)" x="-18.77" y="0" font-family="Liberation Sans" font-size="48.3" fill="#000" stroke="#000" stroke-width="0.5">Q</text>
<text x="1877.91" y="1807.2" textLength="75.7" lengthAdjust="spacingAndGlyphs" font-family="Liberation Sans" font-size="28.4" fill="#000" stroke="#000" stroke-width="0.4">COM4</text>
<text transform="translate(2028.44 1742.5) scale(0.8054 1)" x="-18.3" y="0" font-family="Liberation Sans" font-size="48.3" fill="#000" stroke="#000" stroke-width="0.5">R</text>
<text transform="translate(2029.54 1742.5) scale(0.8054 1)" x="-18.3" y="0" font-family="Liberation Sans" font-size="48.3" fill="#000" stroke="#000" stroke-width="0.5">R</text>
<text x="1991.09" y="1807.2" textLength="75.2" lengthAdjust="spacingAndGlyphs" font-family="Liberation Sans" font-size="28.4" fill="#000" stroke="#000" stroke-width="0.4">COM3</text>
<text transform="translate(2141.96 1742.5) scale(0.7912 1)" x="-16.1" y="0" font-family="Liberation Sans" font-size="48.3" fill="#000" stroke="#000" stroke-width="0.5">S</text>
<text transform="translate(2143.06 1742.5) scale(0.7912 1)" x="-16.1" y="0" font-family="Liberation Sans" font-size="48.3" fill="#000" stroke="#000" stroke-width="0.5">S</text>
<text x="2095.01" y="1807.2" textLength="93.2" lengthAdjust="spacingAndGlyphs" font-family="Liberation Sans" font-size="28.4" fill="#000" stroke="#000" stroke-width="0.4">USB2.0</text>
<text transform="translate(2253.39 1742.5) scale(0.8715 1)" x="-14.74" y="0" font-family="Liberation Sans" font-size="48.3" fill="#000" stroke="#000" stroke-width="0.5">T</text>
<text transform="translate(2254.49 1742.5) scale(0.8715 1)" x="-14.74" y="0" font-family="Liberation Sans" font-size="48.3" fill="#000" stroke="#000" stroke-width="0.5">T</text>
<text x="2207.94" y="1807.2" textLength="93.2" lengthAdjust="spacingAndGlyphs" font-family="Liberation Sans" font-size="28.4" fill="#000" stroke="#000" stroke-width="0.4">USB3.0</text>
<line x1="281.8" y1="964.8" x2="281.8" y2="1150" stroke="#a2a2a2" stroke-width="2.6" stroke-dasharray="15.5 4.8" stroke-dashoffset="8.7"/>
<path d="M281.8 955.2 L276 965 L287.6 965 Z" fill="#000" stroke="none" stroke-width="0" stroke-linejoin="round" stroke-linecap="round" />
<text transform="translate(283.25 943.7) scale(0.8829 1)" x="-16.82" y="0" font-family="Liberation Sans" font-size="48.3" fill="#000" stroke="#000" stroke-width="0.5">B</text>
<text transform="translate(284.35 943.7) scale(0.8829 1)" x="-16.82" y="0" font-family="Liberation Sans" font-size="48.3" fill="#000" stroke="#000" stroke-width="0.5">B</text>
<line x1="552.2" y1="964.8" x2="552.2" y2="1150" stroke="#a2a2a2" stroke-width="2.6" stroke-dasharray="15.5 4.8" stroke-dashoffset="8.7"/>
<path d="M552.2 955.2 L546.4 965 L558 965 Z" fill="#000" stroke="none" stroke-width="0" stroke-linejoin="round" stroke-linecap="round" />
<text transform="translate(551.15 943.7) scale(0.7963 1)" x="-15.77" y="0" font-family="Liberation Sans" font-size="48.3" fill="#000" stroke="#000" stroke-width="0.5">F</text>
<text transform="translate(552.25 943.7) scale(0.7963 1)" x="-15.77" y="0" font-family="Liberation Sans" font-size="48.3" fill="#000" stroke="#000" stroke-width="0.5">F</text>
<line x1="671.7" y1="964.8" x2="671.7" y2="1150" stroke="#a2a2a2" stroke-width="2.6" stroke-dasharray="15.5 4.8" stroke-dashoffset="8.7"/>
<path d="M671.7 955.2 L665.9 965 L677.5 965 Z" fill="#000" stroke="none" stroke-width="0" stroke-linejoin="round" stroke-linecap="round" />
<text transform="translate(673.25 943.7) scale(0.8525 1)" x="-17.45" y="0" font-family="Liberation Sans" font-size="48.3" fill="#000" stroke="#000" stroke-width="0.5">H</text>
<text transform="translate(674.35 943.7) scale(0.8525 1)" x="-17.45" y="0" font-family="Liberation Sans" font-size="48.3" fill="#000" stroke="#000" stroke-width="0.5">H</text>
<line x1="847.8" y1="964.8" x2="847.8" y2="1150" stroke="#a2a2a2" stroke-width="2.6" stroke-dasharray="15.5 4.8" stroke-dashoffset="8.7"/>
<path d="M847.8 955.2 L842 965 L853.6 965 Z" fill="#000" stroke="none" stroke-width="0" stroke-linejoin="round" stroke-linecap="round" />
<text transform="translate(847.05 943.7) scale(0.8833 1)" x="-10.66" y="0" font-family="Liberation Sans" font-size="48.3" fill="#000" stroke="#000" stroke-width="0.5">J</text>
<text transform="translate(848.15 943.7) scale(0.8833 1)" x="-10.66" y="0" font-family="Liberation Sans" font-size="48.3" fill="#000" stroke="#000" stroke-width="0.5">J</text>
<line x1="221.8" y1="1385.7" x2="221.8" y2="1202.8" stroke="#a2a2a2" stroke-width="2.6" stroke-dasharray="15.5 4.8" stroke-dashoffset="8.7"/>
<path d="M221.8 1395.3 L216 1385.5 L227.6 1385.5 Z" fill="#000" stroke="none" stroke-width="0" stroke-linejoin="round" stroke-linecap="round" />
<text transform="translate(221.5 1442.7) scale(0.8338 1)" x="-16.11" y="0" font-family="Liberation Sans" font-size="48.3" fill="#000" stroke="#000" stroke-width="0.5">A</text>
<text transform="translate(222.6 1442.7) scale(0.8338 1)" x="-16.11" y="0" font-family="Liberation Sans" font-size="48.3" fill="#000" stroke="#000" stroke-width="0.5">A</text>
<line x1="348.1" y1="1385.7" x2="348.1" y2="1215" stroke="#a2a2a2" stroke-width="2.6" stroke-dasharray="15.5 4.8" stroke-dashoffset="8.7"/>
<path d="M348.1 1395.3 L342.3 1385.5 L353.9 1385.5 Z" fill="#000" stroke="none" stroke-width="0" stroke-linejoin="round" stroke-linecap="round" />
<text transform="translate(347.55 1442.7) scale(0.7781 1)" x="-17.75" y="0" font-family="Liberation Sans" font-size="48.3" fill="#000" stroke="#000" stroke-width="0.5">C</text>
<text transform="translate(348.65 1442.7) scale(0.7781 1)" x="-17.75" y="0" font-family="Liberation Sans" font-size="48.3" fill="#000" stroke="#000" stroke-width="0.5">C</text>
<line x1="417.5" y1="1385.7" x2="417.5" y2="1214" stroke="#a2a2a2" stroke-width="2.6" stroke-dasharray="15.5 4.8" stroke-dashoffset="8.7"/>
<path d="M417.5 1395.3 L411.7 1385.5 L423.3 1385.5 Z" fill="#000" stroke="none" stroke-width="0" stroke-linejoin="round" stroke-linecap="round" />
<text transform="translate(417.75 1442.7) scale(0.8284 1)" x="-18.26" y="0" font-family="Liberation Sans" font-size="48.3" fill="#000" stroke="#000" stroke-width="0.5">D</text>
<text transform="translate(418.85 1442.7) scale(0.8284 1)" x="-18.26" y="0" font-family="Liberation Sans" font-size="48.3" fill="#000" stroke="#000" stroke-width="0.5">D</text>
<line x1="489.5" y1="1385.7" x2="489.5" y2="1204" stroke="#a2a2a2" stroke-width="2.6" stroke-dasharray="15.5 4.8" stroke-dashoffset="8.7"/>
<path d="M489.5 1395.3 L483.7 1385.5 L495.3 1385.5 Z" fill="#000" stroke="none" stroke-width="0" stroke-linejoin="round" stroke-linecap="round" />
<text transform="translate(490.35 1442.7) scale(0.7181 1)" x="-17.05" y="0" font-family="Liberation Sans" font-size="48.3" fill="#000" stroke="#000" stroke-width="0.5">E</text>
<text transform="translate(491.45 1442.7) scale(0.7181 1)" x="-17.05" y="0" font-family="Liberation Sans" font-size="48.3" fill="#000" stroke="#000" stroke-width="0.5">E</text>
<line x1="611.9" y1="1385.7" x2="611.9" y2="1204" stroke="#a2a2a2" stroke-width="2.6" stroke-dasharray="15.5 4.8" stroke-dashoffset="8.7"/>
<path d="M611.9 1395.3 L606.1 1385.5 L617.7 1385.5 Z" fill="#000" stroke="none" stroke-width="0" stroke-linejoin="round" stroke-linecap="round" />
<text transform="translate(610.45 1442.7) scale(0.8087 1)" x="-18.19" y="0" font-family="Liberation Sans" font-size="48.3" fill="#000" stroke="#000" stroke-width="0.5">G</text>
<text transform="translate(611.55 1442.7) scale(0.8087 1)" x="-18.19" y="0" font-family="Liberation Sans" font-size="48.3" fill="#000" stroke="#000" stroke-width="0.5">G</text>
<line x1="746.4" y1="1385.7" x2="746.4" y2="1204" stroke="#a2a2a2" stroke-width="2.6" stroke-dasharray="15.5 4.8" stroke-dashoffset="8.7"/>
<path d="M746.4 1395.3 L740.6 1385.5 L752.2 1385.5 Z" fill="#000" stroke="none" stroke-width="0" stroke-linejoin="round" stroke-linecap="round" />
<text transform="translate(746.25 1442.7) scale(1.0 1)" x="-6.71" y="0" font-family="Liberation Sans" font-size="48.3" fill="#000" stroke="#000" stroke-width="0.5">I</text>
<text transform="translate(746.75 1442.7) scale(1.0 1)" x="-6.71" y="0" font-family="Liberation Sans" font-size="48.3" fill="#000" stroke="#000" stroke-width="0.5">I</text>
<line x1="847.6" y1="1385.7" x2="847.6" y2="1210" stroke="#a2a2a2" stroke-width="2.6" stroke-dasharray="15.5 4.8" stroke-dashoffset="8.7"/>
<path d="M847.6 1395.3 L841.8 1385.5 L853.4 1385.5 Z" fill="#000" stroke="none" stroke-width="0" stroke-linejoin="round" stroke-linecap="round" />
<text transform="translate(847.95 1442.7) scale(0.866 1)" x="-17.82" y="0" font-family="Liberation Sans" font-size="48.3" fill="#000" stroke="#000" stroke-width="0.5">K</text>
<text transform="translate(849.05 1442.7) scale(0.866 1)" x="-17.82" y="0" font-family="Liberation Sans" font-size="48.3" fill="#000" stroke="#000" stroke-width="0.5">K</text>
<g transform="translate(0 0)">
<path d="M947.9 1248.2 L1024.5 1248.2 L1024.5 1261.3 L935 1261.3" fill="none" stroke="#000" stroke-width="3.4" stroke-linejoin="round" stroke-linecap="round" />
<line x1="1015.5" y1="1248" x2="1015.5" y2="1261.5" stroke="#000" stroke-width="2.6" />
<path d="M955.5 1072.8 L959.7 1099.9 L947.9 1101.4 L947.9 1115.8 L962.3 1117.6 L962.3 1126.8 L947.9 1128 L947.9 1143.4 L963.5 1144.6 L963.5 1153.2 L947.9 1155 L947.9 1169.1 L963.8 1170.9 L963.8 1179.5 L947.9 1181.4 L947.9 1195.5 L963.5 1196.7 L963.5 1205.9 L947.9 1207.1 L947.9 1221.8 L961 1223.7 L961 1233.5 L947.9 1234.1 L947.9 1248.2" fill="none" stroke="#000" stroke-width="3.5" stroke-linejoin="round" stroke-linecap="round" />
<path d="M955.5 1071.8 L902.5 1035.2 L891.5 1035.2 L890.2 1047 L892.5 1049.2 L902 1049.2 L926 1066 L926.5 1071.8" fill="none" stroke="#000" stroke-width="3" stroke-linejoin="round" stroke-linecap="round" />
<path d="M902.2 1072.8 V1066 Q902.2 1061.6 898.2 1061.6 H895.6 Q891.6 1061.6 891.6 1066 V1072.8" fill="none" stroke="#000" stroke-width="3" stroke-linejoin="round" stroke-linecap="round" />
<circle cx="922.2" cy="1114" r="5" fill="none" stroke="#000" stroke-width="3.2"/>
<circle cx="922.2" cy="1238.1" r="5" fill="none" stroke="#000" stroke-width="3.2"/>
<path d="M159.1 1248.2 L82.5 1248.2 L82.5 1261.3 L172 1261.3" fill="none" stroke="#000" stroke-width="3.4" stroke-linejoin="round" stroke-linecap="round" />
<line x1="91.5" y1="1248" x2="91.5" y2="1261.5" stroke="#000" stroke-width="2.6" />
<path d="M151.5 1072.8 L147.3 1099.9 L159.1 1101.4 L159.1 1115.8 L144.7 1117.6 L144.7 1126.8 L159.1 1128 L159.1 1143.4 L143.5 1144.6 L143.5 1153.2 L159.1 1155 L159.1 1169.1 L143.2 1170.9 L143.2 1179.5 L159.1 1181.4 L159.1 1195.5 L143.5 1196.7 L143.5 1205.9 L159.1 1207.1 L159.1 1221.8 L146 1223.7 L146 1233.5 L159.1 1234.1 L159.1 1248.2" fill="none" stroke="#000" stroke-width="3.5" stroke-linejoin="round" stroke-linecap="round" />
<path d="M151.5 1071.8 L204.5 1035.2 L215.5 1035.2 L216.8 1047 L214.5 1049.2 L205 1049.2 L181 1066 L180.5 1071.8" fill="none" stroke="#000" stroke-width="3" stroke-linejoin="round" stroke-linecap="round" />
<path d="M204.8 1072.8 V1066 Q204.8 1061.6 208.8 1061.6 H211.4 Q215.4 1061.6 215.4 1066 V1072.8" fill="none" stroke="#000" stroke-width="3" stroke-linejoin="round" stroke-linecap="round" />
<circle cx="184.8" cy="1114" r="5" fill="none" stroke="#000" stroke-width="3.2"/>
<circle cx="184.8" cy="1238.1" r="5" fill="none" stroke="#000" stroke-width="3.2"/>
<line x1="150.5" y1="1072.8" x2="956.5" y2="1072.8" stroke="#000" stroke-width="3.6" />
<line x1="172" y1="1257.5" x2="935" y2="1257.5" stroke="#000" stroke-width="2.5" />
<line x1="160" y1="1261.2" x2="947" y2="1261.2" stroke="#000" stroke-width="2.7" />
<path d="M175.2 1257.2 Q170.2 1252 170.2 1245 V1102 Q170.2 1099.5 172.2 1097.3 L184.7 1084.3 Q187.7 1082 191.7 1082 H915.3 Q919.3 1082 922.3 1084.3 L934.8 1097.3 Q936.8 1099.5 936.8 1102 V1245 Q936.8 1252 931.8 1257.2" fill="none" stroke="#000" stroke-width="3.2" stroke-linejoin="round" stroke-linecap="round" />
<path d="M251.2 1072.8 L253.3 1037.5 Q253.5 1035.2 255.5 1035.2 H259.5 Q261.5 1035.2 261.7 1037.5 L263.8 1072.8" fill="none" stroke="#000" stroke-width="2.8" stroke-linejoin="round" stroke-linecap="round" />
<path d="M296.76 1072.8 L298.86 1037.5 Q299.06 1035.2 301.06 1035.2 H305.06 Q307.06 1035.2 307.26 1037.5 L309.36 1072.8" fill="none" stroke="#000" stroke-width="2.8" stroke-linejoin="round" stroke-linecap="round" />
<path d="M342.32 1072.8 L344.42 1037.5 Q344.62 1035.2 346.62 1035.2 H350.62 Q352.62 1035.2 352.82 1037.5 L354.92 1072.8" fill="none" stroke="#000" stroke-width="2.8" stroke-linejoin="round" stroke-linecap="round" />
<path d="M387.88 1072.8 L389.98 1037.5 Q390.18 1035.2 392.18 1035.2 H396.18 Q398.18 1035.2 398.38 1037.5 L400.48 1072.8" fill="none" stroke="#000" stroke-width="2.8" stroke-linejoin="round" stroke-linecap="round" />
<path d="M433.44 1072.8 L435.54 1037.5 Q435.74 1035.2 437.74 1035.2 H441.74 Q443.74 1035.2 443.94 1037.5 L446.04 1072.8" fill="none" stroke="#000" stroke-width="2.8" stroke-linejoin="round" stroke-linecap="round" />
<path d="M479 1072.8 L481.1 1037.5 Q481.3 1035.2 483.3 1035.2 H487.3 Q489.3 1035.2 489.5 1037.5 L491.6 1072.8" fill="none" stroke="#000" stroke-width="2.8" stroke-linejoin="round" stroke-linecap="round" />
<path d="M524.56 1072.8 L526.66 1037.5 Q526.86 1035.2 528.86 1035.2 H532.86 Q534.86 1035.2 535.06 1037.5 L537.16 1072.8" fill="none" stroke="#000" stroke-width="2.8" stroke-linejoin="round" stroke-linecap="round" />
<path d="M570.12 1072.8 L572.22 1037.5 Q572.42 1035.2 574.42 1035.2 H578.42 Q580.42 1035.2 580.62 1037.5 L582.72 1072.8" fill="none" stroke="#000" stroke-width="2.8" stroke-linejoin="round" stroke-linecap="round" />
<path d="M615.68 1072.8 L617.78 1037.5 Q617.98 1035.2 619.98 1035.2 H623.98 Q625.98 1035.2 626.18 1037.5 L628.28 1072.8" fill="none" stroke="#000" stroke-width="2.8" stroke-linejoin="round" stroke-linecap="round" />
<path d="M661.24 1072.8 L663.34 1037.5 Q663.54 1035.2 665.54 1035.2 H669.54 Q671.54 1035.2 671.74 1037.5 L673.84 1072.8" fill="none" stroke="#000" stroke-width="2.8" stroke-linejoin="round" stroke-linecap="round" />
<path d="M706.8 1072.8 L708.9 1037.5 Q709.1 1035.2 711.1 1035.2 H715.1 Q717.1 1035.2 717.3 1037.5 L719.4 1072.8" fill="none" stroke="#000" stroke-width="2.8" stroke-linejoin="round" stroke-linecap="round" />
<path d="M752.36 1072.8 L754.46 1037.5 Q754.66 1035.2 756.66 1035.2 H760.66 Q762.66 1035.2 762.86 1037.5 L764.96 1072.8" fill="none" stroke="#000" stroke-width="2.8" stroke-linejoin="round" stroke-linecap="round" />
<path d="M797.92 1072.8 L800.02 1037.5 Q800.22 1035.2 802.22 1035.2 H806.22 Q808.22 1035.2 808.42 1037.5 L810.52 1072.8" fill="none" stroke="#000" stroke-width="2.8" stroke-linejoin="round" stroke-linecap="round" />
<path d="M843.48 1072.8 L845.58 1037.5 Q845.78 1035.2 847.78 1035.2 H851.78 Q853.78 1035.2 853.98 1037.5 L856.08 1072.8" fill="none" stroke="#000" stroke-width="2.8" stroke-linejoin="round" stroke-linecap="round" />
<path d="M228.5 1072.8 L229.7 1056.3 Q229.9 1054.3 231.9 1054.3 H237.9 Q239.9 1054.3 240.1 1056.3 L241.3 1072.8" fill="none" stroke="#000" stroke-width="2.8" stroke-linejoin="round" stroke-linecap="round" />
<path d="M274.06 1072.8 L275.26 1056.3 Q275.46 1054.3 277.46 1054.3 H283.46 Q285.46 1054.3 285.66 1056.3 L286.86 1072.8" fill="none" stroke="#000" stroke-width="2.8" stroke-linejoin="round" stroke-linecap="round" />
<path d="M319.62 1072.8 L320.82 1056.3 Q321.02 1054.3 323.02 1054.3 H329.02 Q331.02 1054.3 331.22 1056.3 L332.42 1072.8" fill="none" stroke="#000" stroke-width="2.8" stroke-linejoin="round" stroke-linecap="round" />
<path d="M365.18 1072.8 L366.38 1056.3 Q366.58 1054.3 368.58 1054.3 H374.58 Q376.58 1054.3 376.78 1056.3 L377.98 1072.8" fill="none" stroke="#000" stroke-width="2.8" stroke-linejoin="round" stroke-linecap="round" />
<path d="M410.74 1072.8 L411.94 1056.3 Q412.14 1054.3 414.14 1054.3 H420.14 Q422.14 1054.3 422.34 1056.3 L423.54 1072.8" fill="none" stroke="#000" stroke-width="2.8" stroke-linejoin="round" stroke-linecap="round" />
<path d="M456.3 1072.8 L457.5 1056.3 Q457.7 1054.3 459.7 1054.3 H465.7 Q467.7 1054.3 467.9 1056.3 L469.1 1072.8" fill="none" stroke="#000" stroke-width="2.8" stroke-linejoin="round" stroke-linecap="round" />
<path d="M501.86 1072.8 L503.06 1056.3 Q503.26 1054.3 505.26 1054.3 H511.26 Q513.26 1054.3 513.46 1056.3 L514.66 1072.8" fill="none" stroke="#000" stroke-width="2.8" stroke-linejoin="round" stroke-linecap="round" />
<path d="M547.42 1072.8 L548.62 1056.3 Q548.82 1054.3 550.82 1054.3 H556.82 Q558.82 1054.3 559.02 1056.3 L560.22 1072.8" fill="none" stroke="#000" stroke-width="2.8" stroke-linejoin="round" stroke-linecap="round" />
<path d="M592.98 1072.8 L594.18 1056.3 Q594.38 1054.3 596.38 1054.3 H602.38 Q604.38 1054.3 604.58 1056.3 L605.78 1072.8" fill="none" stroke="#000" stroke-width="2.8" stroke-linejoin="round" stroke-linecap="round" />
<path d="M638.54 1072.8 L639.74 1056.3 Q639.94 1054.3 641.94 1054.3 H647.94 Q649.94 1054.3 650.14 1056.3 L651.34 1072.8" fill="none" stroke="#000" stroke-width="2.8" stroke-linejoin="round" stroke-linecap="round" />
<path d="M684.1 1072.8 L685.3 1056.3 Q685.5 1054.3 687.5 1054.3 H693.5 Q695.5 1054.3 695.7 1056.3 L696.9 1072.8" fill="none" stroke="#000" stroke-width="2.8" stroke-linejoin="round" stroke-linecap="round" />
<path d="M729.66 1072.8 L730.86 1056.3 Q731.06 1054.3 733.06 1054.3 H739.06 Q741.06 1054.3 741.26 1056.3 L742.46 1072.8" fill="none" stroke="#000" stroke-width="2.8" stroke-linejoin="round" stroke-linecap="round" />
<path d="M775.22 1072.8 L776.42 1056.3 Q776.62 1054.3 778.62 1054.3 H784.62 Q786.62 1054.3 786.82 1056.3 L788.02 1072.8" fill="none" stroke="#000" stroke-width="2.8" stroke-linejoin="round" stroke-linecap="round" />
<path d="M820.78 1072.8 L821.98 1056.3 Q822.18 1054.3 824.18 1054.3 H830.18 Q832.18 1054.3 832.38 1056.3 L833.58 1072.8" fill="none" stroke="#000" stroke-width="2.8" stroke-linejoin="round" stroke-linecap="round" />
<path d="M866.34 1072.8 L867.54 1056.3 Q867.74 1054.3 869.74 1054.3 H875.74 Q877.74 1054.3 877.94 1056.3 L879.14 1072.8" fill="none" stroke="#000" stroke-width="2.8" stroke-linejoin="round" stroke-linecap="round" />
</g>
<text x="205.9" y="1133" textLength="30.7" lengthAdjust="spacingAndGlyphs" font-family="Liberation Serif" font-weight="bold" font-size="17.5" fill="#000" stroke="#000" stroke-width="0.7">Power</text>
<text x="265" y="1133" textLength="12.5" lengthAdjust="spacingAndGlyphs" font-family="Liberation Serif" font-weight="bold" font-size="17.5" fill="#000" stroke="#000" stroke-width="0.7">DC</text>
<text x="284.5" y="1133" textLength="11.9" lengthAdjust="spacingAndGlyphs" font-family="Liberation Serif" font-weight="bold" font-size="17.5" fill="#000" stroke="#000" stroke-width="0.7">IN</text>
<text x="336.3" y="1133" textLength="24" lengthAdjust="spacingAndGlyphs" font-family="Liberation Serif" font-weight="bold" font-size="17.5" fill="#000" stroke="#000" stroke-width="0.7">HDMI</text>
<text x="398.6" y="1133" textLength="36.7" lengthAdjust="spacingAndGlyphs" font-family="Liberation Serif" font-weight="bold" font-size="17.5" fill="#000" stroke="#000" stroke-width="0.7">USB3.0</text>
<text x="477.3" y="1133" textLength="24.7" lengthAdjust="spacingAndGlyphs" font-family="Liberation Serif" font-weight="bold" font-size="17.5" fill="#000" stroke="#000" stroke-width="0.7">LAN5</text>
<text x="537.3" y="1133" textLength="24.7" lengthAdjust="spacingAndGlyphs" font-family="Liberation Serif" font-weight="bold" font-size="17.5" fill="#000" stroke="#000" stroke-width="0.7">LAN4</text>
<text x="597.4" y="1133" textLength="24.6" lengthAdjust="spacingAndGlyphs" font-family="Liberation Serif" font-weight="bold" font-size="17.5" fill="#000" stroke="#000" stroke-width="0.7">LAN3</text>
<text x="657.1" y="1133" textLength="24.7" lengthAdjust="spacingAndGlyphs" font-family="Liberation Serif" font-weight="bold" font-size="17.5" fill="#000" stroke="#000" stroke-width="0.7">LAN2</text>
<text x="731.4" y="1133" textLength="24.1" lengthAdjust="spacingAndGlyphs" font-family="Liberation Serif" font-weight="bold" font-size="17.5" fill="#000" stroke="#000" stroke-width="0.7">LAN1</text>
<text x="791.9" y="1133" textLength="12.1" lengthAdjust="spacingAndGlyphs" font-family="Liberation Serif" font-weight="bold" font-size="17.5" fill="#000" stroke="#000" stroke-width="0.7">16</text>
<text x="835.6" y="1133" textLength="24.7" lengthAdjust="spacingAndGlyphs" font-family="Liberation Serif" font-weight="bold" font-size="17.5" fill="#000" stroke="#000" stroke-width="0.7">GPIO</text>
<text x="889.5" y="1133" textLength="6.2" lengthAdjust="spacingAndGlyphs" font-family="Liberation Serif" font-weight="bold" font-size="17.5" fill="#000" stroke="#000" stroke-width="0.7">9</text>
<text x="796" y="1235.4" textLength="5.5" lengthAdjust="spacingAndGlyphs" font-family="Liberation Serif" font-weight="bold" font-size="17.5" fill="#000" stroke="#000" stroke-width="0.7">8</text>
<text x="836.1" y="1235.4" textLength="18.9" lengthAdjust="spacingAndGlyphs" font-family="Liberation Serif" font-weight="bold" font-size="17.5" fill="#000" stroke="#000" stroke-width="0.7">COM</text>
<text x="889.5" y="1235.4" textLength="5" lengthAdjust="spacingAndGlyphs" font-family="Liberation Serif" font-weight="bold" font-size="17.5" fill="#000" stroke="#000" stroke-width="0.7">1</text>
<circle cx="221.5" cy="1166.2" r="14.45" fill="#fff" stroke="#000" stroke-width="5.5"/>
<path d="M217.13 1171.79 A7.1 7.1 0 1 1 225.87 1171.79" fill="none" stroke="#000" stroke-width="3.3"/>
<rect x="218.2" y="1162.8" width="6.6" height="12.4" fill="#fff" stroke="none" stroke-width="0" rx="0" />
<rect x="219.55" y="1163.6" width="3.9" height="10.8" fill="#000" stroke="none" stroke-width="0" rx="0.8" />
<path d="M270.7 1181.7 V1192.7 Q270.7 1196.5 275.2 1196.5 H290.5 Q295 1196.5 295 1192.2 V1181.7" fill="#fff" stroke="#000" stroke-width="2.4" stroke-linejoin="round" stroke-linecap="round" />
<line x1="285.6" y1="1179.7" x2="285.6" y2="1196.2" stroke="#000" stroke-width="2.4" />
<line x1="285.6" y1="1186.4" x2="295" y2="1186.4" stroke="#000" stroke-width="2.2" />
<rect x="243.6" y="1149.7" width="79" height="31.7" fill="#fff" stroke="#000" stroke-width="4.6" rx="0" />
<circle cx="254" cy="1166.6" r="3.7" fill="#fff" stroke="#000" stroke-width="4.2"/>
<circle cx="313.2" cy="1166.6" r="4.2" fill="#fff" stroke="#000" stroke-width="3.9"/>
<path d="M264.8 1175.7 V1158.3 L268.8 1155.3 Q272.8 1153.8 276.8 1154.6 L279.65 1157.9 Q283.15 1158.9 286.65 1157.9 L289.5 1154.6 Q293.5 1153.8 297.5 1155.3 L301.5 1158.3 V1175.7 Z" fill="#fff" stroke="#000" stroke-width="2.6" stroke-linejoin="round" stroke-linecap="round" />
<rect x="272.7" y="1165" width="4.2" height="2.8" fill="#000" stroke="none" stroke-width="0" rx="0.8" />
<rect x="291" y="1165" width="4.2" height="2.8" fill="#000" stroke="none" stroke-width="0" rx="0.8" />
<rect x="270.7" y="1175.4" width="6.6" height="4.5" fill="#000" stroke="none" stroke-width="0" rx="0" />
<rect x="289.3" y="1175.4" width="7.2" height="4.5" fill="#000" stroke="none" stroke-width="0" rx="0" />
<line x1="277.3" y1="1177.6" x2="289.3" y2="1177.6" stroke="#000" stroke-width="1.6" />
<path d="M340.8 1156.2 L353.1 1156.2 L360.9 1166.6 L360.9 1204.2 L354.1 1213.4 L340.8 1213.4 L339.3 1211.9 L339.3 1157.7 Z" fill="#000" stroke="#000" stroke-width="6.4" stroke-linejoin="round" stroke-linecap="round" />
<path d="M343.3 1160.2 L351.3 1160.2 L357.5 1168.4 L357.5 1202.4 L352.1 1209.8 L343.3 1209.8 Z" fill="#fff" stroke="#fff" stroke-width="0.8" stroke-linejoin="round" stroke-linecap="round" />
<rect x="347.2" y="1163.2" width="5.6" height="43.4" fill="#000" stroke="none" stroke-width="0" rx="1.2" />
<rect x="342.3" y="1166.5" width="2" height="4.6" fill="#000" stroke="none" stroke-width="0" rx="0" />
<rect x="342.3" y="1177.7" width="2" height="4.6" fill="#000" stroke="none" stroke-width="0" rx="0" />
<rect x="342.3" y="1188.9" width="2" height="4.6" fill="#000" stroke="none" stroke-width="0" rx="0" />
<rect x="342.3" y="1200.1" width="2" height="4.6" fill="#000" stroke="none" stroke-width="0" rx="0" />
<rect x="356.1" y="1173.5" width="2" height="4.6" fill="#000" stroke="none" stroke-width="0" rx="0" />
<rect x="356.1" y="1184.7" width="2" height="4.6" fill="#000" stroke="none" stroke-width="0" rx="0" />
<rect x="356.1" y="1195.9" width="2" height="4.6" fill="#000" stroke="none" stroke-width="0" rx="0" />
<circle cx="377.8" cy="1159.9" r="4.05" fill="#fff" stroke="#000" stroke-width="2.1"/>
<rect x="388.3" y="1149.3" width="61.8" height="66.4" fill="#000" stroke="none" stroke-width="0" rx="5" />
<path d="M396.7 1158.7 L402.9 1158.7 L403.9 1161.1 L434.9 1161.1 L435.9 1158.7 L441.7 1158.7 L438.3 1165 L400.5 1165 Z" fill="#fff" stroke="none" stroke-width="0" stroke-linejoin="round" stroke-linecap="round" />
<rect x="403.8" y="1162.7" width="5.2" height="2.4" fill="#000" stroke="none" stroke-width="0" rx="0" />
<rect x="412.9" y="1162.7" width="5.2" height="2.4" fill="#000" stroke="none" stroke-width="0" rx="0" />
<rect x="420.3" y="1162.7" width="5.2" height="2.4" fill="#000" stroke="none" stroke-width="0" rx="0" />
<rect x="429.1" y="1162.7" width="5.2" height="2.4" fill="#000" stroke="none" stroke-width="0" rx="0" />
<rect x="401.2" y="1169" width="35.8" height="1.9" fill="#fff" stroke="none" stroke-width="0" rx="0" />
<path d="M396.7 1191.3 L402.9 1191.3 L403.9 1193.7 L434.9 1193.7 L435.9 1191.3 L441.7 1191.3 L438.3 1197.6 L400.5 1197.6 Z" fill="#fff" stroke="none" stroke-width="0" stroke-linejoin="round" stroke-linecap="round" />
<rect x="403.8" y="1195.3" width="5.2" height="2.4" fill="#000" stroke="none" stroke-width="0" rx="0" />
<rect x="412.9" y="1195.3" width="5.2" height="2.4" fill="#000" stroke="none" stroke-width="0" rx="0" />
<rect x="420.3" y="1195.3" width="5.2" height="2.4" fill="#000" stroke="none" stroke-width="0" rx="0" />
<rect x="429.1" y="1195.3" width="5.2" height="2.4" fill="#000" stroke="none" stroke-width="0" rx="0" />
<rect x="401.2" y="1201.2" width="35.8" height="1.8" fill="#fff" stroke="none" stroke-width="0" rx="0" />
<rect x="396.7" y="1181.2" width="4.6" height="3.4" fill="#fff" stroke="none" stroke-width="0" rx="0" />
<rect x="402.5" y="1179.1" width="5.1" height="7.6" fill="#fff" stroke="none" stroke-width="0" rx="0" />
<rect x="410.3" y="1181.9" width="3.4" height="2" fill="#fff" stroke="none" stroke-width="0" rx="0" />
<rect x="416.9" y="1180.9" width="4.3" height="4" fill="#fff" stroke="none" stroke-width="0" rx="0" />
<rect x="424.5" y="1181.9" width="3.6" height="2" fill="#fff" stroke="none" stroke-width="0" rx="0" />
<rect x="430.8" y="1179.1" width="5.2" height="7.6" fill="#fff" stroke="none" stroke-width="0" rx="0" />
<rect x="437.5" y="1181.2" width="4.5" height="3.4" fill="#fff" stroke="none" stroke-width="0" rx="0" />
<rect x="445.3" y="1175" width="2.4" height="10" fill="#fff" stroke="none" stroke-width="0" rx="0" />
<path d="M390.9 1208.8 L396.1 1213.3 L391.7 1213.3 Z" fill="#fff" stroke="none" stroke-width="0" stroke-linejoin="round" stroke-linecap="round" />
<path d="M447.5 1208.8 L442.3 1213.3 L446.7 1213.3 Z" fill="#fff" stroke="none" stroke-width="0" stroke-linejoin="round" stroke-linecap="round" />
<rect x="415.8" y="1211.1" width="6.5" height="2.2" fill="#fff" stroke="none" stroke-width="0" rx="0" />
<rect x="414.8" y="1152.3" width="8.5" height="1" fill="#bbb" stroke="none" stroke-width="0" rx="0" />
<rect x="455.9" y="1147.2" width="251.4" height="58.3" fill="#000" stroke="none" stroke-width="0" rx="0" />
<rect x="460.8" y="1152.1" width="241.6" height="48" fill="#fff" stroke="none" stroke-width="0" rx="0" />
<rect x="465.4" y="1158.2" width="51.5" height="40.6" fill="#000" stroke="none" stroke-width="0" rx="0" />
<path d="M469.8 1161.8 L512.9 1161.8 L512.9 1186.1 L502.6 1186.1 L502.6 1191.6 L498.8 1191.6 L498.8 1196.3 L483.8 1196.3 L483.8 1191.6 L479.9 1191.6 L479.9 1186.1 L469.8 1186.1 Z" fill="#fff" stroke="none" stroke-width="0" stroke-linejoin="round" stroke-linecap="round" />
<rect x="476" y="1161.6" width="30.5" height="5.2" fill="#000" stroke="none" stroke-width="0" rx="0" />
<rect x="467.9" y="1188.7" width="10.1" height="1.9" fill="#fff" stroke="none" stroke-width="0" rx="0" />
<rect x="467.9" y="1193.6" width="7.8" height="1.9" fill="#fff" stroke="none" stroke-width="0" rx="0" />
<rect x="478" y="1193.9" width="3.5" height="2.3" fill="#fff" stroke="none" stroke-width="0" rx="0" />
<rect x="504.3" y="1188.7" width="10.1" height="1.9" fill="#fff" stroke="none" stroke-width="0" rx="0" />
<rect x="506.6" y="1193.6" width="7.8" height="1.9" fill="#fff" stroke="none" stroke-width="0" rx="0" />
<rect x="500.8" y="1193.9" width="3.5" height="2.3" fill="#fff" stroke="none" stroke-width="0" rx="0" />
<rect x="480.4" y="1198.8" width="2.6" height="2.4" fill="#000" stroke="none" stroke-width="0" rx="0" />
<rect x="499.3" y="1198.8" width="2.6" height="2.4" fill="#000" stroke="none" stroke-width="0" rx="0" />
<rect x="525.6" y="1158.2" width="51.5" height="40.6" fill="#000" stroke="none" stroke-width="0" rx="0" />
<path d="M530 1161.8 L573.1 1161.8 L573.1 1186.1 L562.8 1186.1 L562.8 1191.6 L559 1191.6 L559 1196.3 L544 1196.3 L544 1191.6 L540.1 1191.6 L540.1 1186.1 L530 1186.1 Z" fill="#fff" stroke="none" stroke-width="0" stroke-linejoin="round" stroke-linecap="round" />
<rect x="536.2" y="1161.6" width="30.5" height="5.2" fill="#000" stroke="none" stroke-width="0" rx="0" />
<rect x="528.1" y="1188.7" width="10.1" height="1.9" fill="#fff" stroke="none" stroke-width="0" rx="0" />
<rect x="528.1" y="1193.6" width="7.8" height="1.9" fill="#fff" stroke="none" stroke-width="0" rx="0" />
<rect x="538.2" y="1193.9" width="3.5" height="2.3" fill="#fff" stroke="none" stroke-width="0" rx="0" />
<rect x="564.5" y="1188.7" width="10.1" height="1.9" fill="#fff" stroke="none" stroke-width="0" rx="0" />
<rect x="566.8" y="1193.6" width="7.8" height="1.9" fill="#fff" stroke="none" stroke-width="0" rx="0" />
<rect x="561" y="1193.9" width="3.5" height="2.3" fill="#fff" stroke="none" stroke-width="0" rx="0" />
<rect x="540.6" y="1198.8" width="2.6" height="2.4" fill="#000" stroke="none" stroke-width="0" rx="0" />
<rect x="559.5" y="1198.8" width="2.6" height="2.4" fill="#000" stroke="none" stroke-width="0" rx="0" />
<line x1="519.2" y1="1151.2" x2="519.2" y2="1200.5" stroke="#000" stroke-width="2.5" />
<line x1="523" y1="1151.2" x2="523" y2="1200.5" stroke="#000" stroke-width="2.5" />
<rect x="585.8" y="1158.2" width="51.5" height="40.6" fill="#000" stroke="none" stroke-width="0" rx="0" />
<path d="M590.2 1161.8 L633.3 1161.8 L633.3 1186.1 L623 1186.1 L623 1191.6 L619.2 1191.6 L619.2 1196.3 L604.2 1196.3 L604.2 1191.6 L600.3 1191.6 L600.3 1186.1 L590.2 1186.1 Z" fill="#fff" stroke="none" stroke-width="0" stroke-linejoin="round" stroke-linecap="round" />
<rect x="596.4" y="1161.6" width="30.5" height="5.2" fill="#000" stroke="none" stroke-width="0" rx="0" />
<rect x="588.3" y="1188.7" width="10.1" height="1.9" fill="#fff" stroke="none" stroke-width="0" rx="0" />
<rect x="588.3" y="1193.6" width="7.8" height="1.9" fill="#fff" stroke="none" stroke-width="0" rx="0" />
<rect x="598.4" y="1193.9" width="3.5" height="2.3" fill="#fff" stroke="none" stroke-width="0" rx="0" />
<rect x="624.7" y="1188.7" width="10.1" height="1.9" fill="#fff" stroke="none" stroke-width="0" rx="0" />
<rect x="627" y="1193.6" width="7.8" height="1.9" fill="#fff" stroke="none" stroke-width="0" rx="0" />
<rect x="621.2" y="1193.9" width="3.5" height="2.3" fill="#fff" stroke="none" stroke-width="0" rx="0" />
<rect x="600.8" y="1198.8" width="2.6" height="2.4" fill="#000" stroke="none" stroke-width="0" rx="0" />
<rect x="619.7" y="1198.8" width="2.6" height="2.4" fill="#000" stroke="none" stroke-width="0" rx="0" />
<line x1="579.4" y1="1151.2" x2="579.4" y2="1200.5" stroke="#000" stroke-width="2.5" />
<line x1="583.2" y1="1151.2" x2="583.2" y2="1200.5" stroke="#000" stroke-width="2.5" />
<rect x="646" y="1158.2" width="51.5" height="40.6" fill="#000" stroke="none" stroke-width="0" rx="0" />
<path d="M650.4 1161.8 L693.5 1161.8 L693.5 1186.1 L683.2 1186.1 L683.2 1191.6 L679.4 1191.6 L679.4 1196.3 L664.4 1196.3 L664.4 1191.6 L660.5 1191.6 L660.5 1186.1 L650.4 1186.1 Z" fill="#fff" stroke="none" stroke-width="0" stroke-linejoin="round" stroke-linecap="round" />
<rect x="656.6" y="1161.6" width="30.5" height="5.2" fill="#000" stroke="none" stroke-width="0" rx="0" />
<rect x="648.5" y="1188.7" width="10.1" height="1.9" fill="#fff" stroke="none" stroke-width="0" rx="0" />
<rect x="648.5" y="1193.6" width="7.8" height="1.9" fill="#fff" stroke="none" stroke-width="0" rx="0" />
<rect x="658.6" y="1193.9" width="3.5" height="2.3" fill="#fff" stroke="none" stroke-width="0" rx="0" />
<rect x="684.9" y="1188.7" width="10.1" height="1.9" fill="#fff" stroke="none" stroke-width="0" rx="0" />
<rect x="687.2" y="1193.6" width="7.8" height="1.9" fill="#fff" stroke="none" stroke-width="0" rx="0" />
<rect x="681.4" y="1193.9" width="3.5" height="2.3" fill="#fff" stroke="none" stroke-width="0" rx="0" />
<rect x="661" y="1198.8" width="2.6" height="2.4" fill="#000" stroke="none" stroke-width="0" rx="0" />
<rect x="679.9" y="1198.8" width="2.6" height="2.4" fill="#000" stroke="none" stroke-width="0" rx="0" />
<line x1="639.6" y1="1151.2" x2="639.6" y2="1200.5" stroke="#000" stroke-width="2.5" />
<line x1="643.4" y1="1151.2" x2="643.4" y2="1200.5" stroke="#000" stroke-width="2.5" />
<rect x="710.5" y="1147.2" width="70.5" height="58.3" fill="#000" stroke="none" stroke-width="0" rx="0" />
<rect x="715.4" y="1152.1" width="60.7" height="48" fill="#fff" stroke="none" stroke-width="0" rx="0" />
<rect x="720" y="1158.2" width="51.5" height="40.6" fill="#000" stroke="none" stroke-width="0" rx="0" />
<path d="M724.4 1161.8 L767.5 1161.8 L767.5 1186.1 L757.2 1186.1 L757.2 1191.6 L753.4 1191.6 L753.4 1196.3 L738.4 1196.3 L738.4 1191.6 L734.5 1191.6 L734.5 1186.1 L724.4 1186.1 Z" fill="#fff" stroke="none" stroke-width="0" stroke-linejoin="round" stroke-linecap="round" />
<rect x="730.6" y="1161.6" width="30.5" height="5.2" fill="#000" stroke="none" stroke-width="0" rx="0" />
<rect x="722.5" y="1188.7" width="10.1" height="1.9" fill="#fff" stroke="none" stroke-width="0" rx="0" />
<rect x="722.5" y="1193.6" width="7.8" height="1.9" fill="#fff" stroke="none" stroke-width="0" rx="0" />
<rect x="732.6" y="1193.9" width="3.5" height="2.3" fill="#fff" stroke="none" stroke-width="0" rx="0" />
<rect x="758.9" y="1188.7" width="10.1" height="1.9" fill="#fff" stroke="none" stroke-width="0" rx="0" />
<rect x="761.2" y="1193.6" width="7.8" height="1.9" fill="#fff" stroke="none" stroke-width="0" rx="0" />
<rect x="755.4" y="1193.9" width="3.5" height="2.3" fill="#fff" stroke="none" stroke-width="0" rx="0" />
<rect x="735" y="1198.8" width="2.6" height="2.4" fill="#000" stroke="none" stroke-width="0" rx="0" />
<rect x="753.9" y="1198.8" width="2.6" height="2.4" fill="#000" stroke="none" stroke-width="0" rx="0" />
<rect x="786" y="1147.5" width="116.4" height="65.8" fill="#000" stroke="none" stroke-width="0" rx="0" />
<rect x="793" y="1154" width="10" height="17.1" fill="#fff" stroke="none" stroke-width="0" rx="0" />
<rect x="796.6" y="1170.9" width="2.8" height="3.8" fill="#fff" stroke="none" stroke-width="0" rx="0" />
<rect x="795.6" y="1161.3" width="4.8" height="3.8" fill="#000" stroke="none" stroke-width="0" rx="1.6" />
<rect x="793" y="1186.1" width="10" height="17.2" fill="#fff" stroke="none" stroke-width="0" rx="0" />
<rect x="796.6" y="1203.1" width="2.8" height="3.8" fill="#fff" stroke="none" stroke-width="0" rx="0" />
<rect x="795.6" y="1193.6" width="4.8" height="3.8" fill="#000" stroke="none" stroke-width="0" rx="1.6" />
<rect x="806.29" y="1154" width="10" height="17.1" fill="#fff" stroke="none" stroke-width="0" rx="0" />
<rect x="809.89" y="1170.9" width="2.8" height="3.8" fill="#fff" stroke="none" stroke-width="0" rx="0" />
<rect x="808.89" y="1161.3" width="4.8" height="3.8" fill="#000" stroke="none" stroke-width="0" rx="1.6" />
<rect x="806.29" y="1186.1" width="10" height="17.2" fill="#fff" stroke="none" stroke-width="0" rx="0" />
<rect x="809.89" y="1203.1" width="2.8" height="3.8" fill="#fff" stroke="none" stroke-width="0" rx="0" />
<rect x="808.89" y="1193.6" width="4.8" height="3.8" fill="#000" stroke="none" stroke-width="0" rx="1.6" />
<rect x="819.58" y="1154" width="10" height="17.1" fill="#fff" stroke="none" stroke-width="0" rx="0" />
<rect x="823.18" y="1170.9" width="2.8" height="3.8" fill="#fff" stroke="none" stroke-width="0" rx="0" />
<rect x="822.18" y="1161.3" width="4.8" height="3.8" fill="#000" stroke="none" stroke-width="0" rx="1.6" />
<rect x="819.58" y="1186.1" width="10" height="17.2" fill="#fff" stroke="none" stroke-width="0" rx="0" />
<rect x="823.18" y="1203.1" width="2.8" height="3.8" fill="#fff" stroke="none" stroke-width="0" rx="0" />
<rect x="822.18" y="1193.6" width="4.8" height="3.8" fill="#000" stroke="none" stroke-width="0" rx="1.6" />
<rect x="832.87" y="1154" width="10" height="17.1" fill="#fff" stroke="none" stroke-width="0" rx="0" />
<rect x="836.47" y="1170.9" width="2.8" height="3.8" fill="#fff" stroke="none" stroke-width="0" rx="0" />
<rect x="835.47" y="1161.3" width="4.8" height="3.8" fill="#000" stroke="none" stroke-width="0" rx="1.6" />
<rect x="832.87" y="1186.1" width="10" height="17.2" fill="#fff" stroke="none" stroke-width="0" rx="0" />
<rect x="836.47" y="1203.1" width="2.8" height="3.8" fill="#fff" stroke="none" stroke-width="0" rx="0" />
<rect x="835.47" y="1193.6" width="4.8" height="3.8" fill="#000" stroke="none" stroke-width="0" rx="1.6" />
<rect x="846.16" y="1154" width="10" height="17.1" fill="#fff" stroke="none" stroke-width="0" rx="0" />
<rect x="849.76" y="1170.9" width="2.8" height="3.8" fill="#fff" stroke="none" stroke-width="0" rx="0" />
<rect x="848.76" y="1161.3" width="4.8" height="3.8" fill="#000" stroke="none" stroke-width="0" rx="1.6" />
<rect x="846.16" y="1186.1" width="10" height="17.2" fill="#fff" stroke="none" stroke-width="0" rx="0" />
<rect x="849.76" y="1203.1" width="2.8" height="3.8" fill="#fff" stroke="none" stroke-width="0" rx="0" />
<rect x="848.76" y="1193.6" width="4.8" height="3.8" fill="#000" stroke="none" stroke-width="0" rx="1.6" />
<rect x="859.45" y="1154" width="10" height="17.1" fill="#fff" stroke="none" stroke-width="0" rx="0" />
<rect x="863.05" y="1170.9" width="2.8" height="3.8" fill="#fff" stroke="none" stroke-width="0" rx="0" />
<rect x="862.05" y="1161.3" width="4.8" height="3.8" fill="#000" stroke="none" stroke-width="0" rx="1.6" />
<rect x="859.45" y="1186.1" width="10" height="17.2" fill="#fff" stroke="none" stroke-width="0" rx="0" />
<rect x="863.05" y="1203.1" width="2.8" height="3.8" fill="#fff" stroke="none" stroke-width="0" rx="0" />
<rect x="862.05" y="1193.6" width="4.8" height="3.8" fill="#000" stroke="none" stroke-width="0" rx="1.6" />
<rect x="872.74" y="1154" width="10" height="17.1" fill="#fff" stroke="none" stroke-width="0" rx="0" />
<rect x="876.34" y="1170.9" width="2.8" height="3.8" fill="#fff" stroke="none" stroke-width="0" rx="0" />
<rect x="875.34" y="1161.3" width="4.8" height="3.8" fill="#000" stroke="none" stroke-width="0" rx="1.6" />
<rect x="872.74" y="1186.1" width="10" height="17.2" fill="#fff" stroke="none" stroke-width="0" rx="0" />
<rect x="876.34" y="1203.1" width="2.8" height="3.8" fill="#fff" stroke="none" stroke-width="0" rx="0" />
<rect x="875.34" y="1193.6" width="4.8" height="3.8" fill="#000" stroke="none" stroke-width="0" rx="1.6" />
<rect x="886.03" y="1154" width="10" height="17.1" fill="#fff" stroke="none" stroke-width="0" rx="0" />
<rect x="889.63" y="1170.9" width="2.8" height="3.8" fill="#fff" stroke="none" stroke-width="0" rx="0" />
<rect x="888.63" y="1161.3" width="4.8" height="3.8" fill="#000" stroke="none" stroke-width="0" rx="1.6" />
<rect x="886.03" y="1186.1" width="10" height="17.2" fill="#fff" stroke="none" stroke-width="0" rx="0" />
<rect x="889.63" y="1203.1" width="2.8" height="3.8" fill="#fff" stroke="none" stroke-width="0" rx="0" />
<rect x="888.63" y="1193.6" width="4.8" height="3.8" fill="#000" stroke="none" stroke-width="0" rx="1.6" />
<rect x="790.6" y="1174.1" width="1.6" height="9" fill="#fff" stroke="none" stroke-width="0" rx="0" />
<rect x="803.89" y="1174.1" width="1.6" height="9" fill="#fff" stroke="none" stroke-width="0" rx="0" />
<path d="M803.09 1205.1 L806.29 1205.1 L804.69 1207.7 Z" fill="#fff" stroke="none" stroke-width="0" stroke-linejoin="round" stroke-linecap="round" />
<rect x="817.18" y="1174.1" width="1.6" height="9" fill="#fff" stroke="none" stroke-width="0" rx="0" />
<path d="M816.38 1205.1 L819.58 1205.1 L817.98 1207.7 Z" fill="#fff" stroke="none" stroke-width="0" stroke-linejoin="round" stroke-linecap="round" />
<rect x="830.47" y="1174.1" width="1.6" height="9" fill="#fff" stroke="none" stroke-width="0" rx="0" />
<path d="M829.67 1205.1 L832.87 1205.1 L831.27 1207.7 Z" fill="#fff" stroke="none" stroke-width="0" stroke-linejoin="round" stroke-linecap="round" />
<rect x="843.76" y="1174.1" width="1.6" height="9" fill="#fff" stroke="none" stroke-width="0" rx="0" />
<path d="M842.96 1205.1 L846.16 1205.1 L844.56 1207.7 Z" fill="#fff" stroke="none" stroke-width="0" stroke-linejoin="round" stroke-linecap="round" />
<rect x="857.05" y="1174.1" width="1.6" height="9" fill="#fff" stroke="none" stroke-width="0" rx="0" />
<path d="M856.25 1205.1 L859.45 1205.1 L857.85 1207.7 Z" fill="#fff" stroke="none" stroke-width="0" stroke-linejoin="round" stroke-linecap="round" />
<rect x="870.34" y="1174.1" width="1.6" height="9" fill="#fff" stroke="none" stroke-width="0" rx="0" />
<path d="M869.54 1205.1 L872.74 1205.1 L871.14 1207.7 Z" fill="#fff" stroke="none" stroke-width="0" stroke-linejoin="round" stroke-linecap="round" />
<rect x="883.63" y="1174.1" width="1.6" height="9" fill="#fff" stroke="none" stroke-width="0" rx="0" />
<path d="M882.83 1205.1 L886.03 1205.1 L884.43 1207.7 Z" fill="#fff" stroke="none" stroke-width="0" stroke-linejoin="round" stroke-linecap="round" />
<rect x="896.92" y="1174.1" width="1.6" height="9" fill="#fff" stroke="none" stroke-width="0" rx="0" />
<rect x="796.8" y="1179.4" width="2.4" height="2.6" fill="#fff" stroke="none" stroke-width="0" rx="0" />
<rect x="808.89" y="1179.4" width="4.8" height="2.6" fill="#fff" stroke="none" stroke-width="0" rx="0" />
<rect x="835.47" y="1179.4" width="4.8" height="2.6" fill="#fff" stroke="none" stroke-width="0" rx="0" />
<rect x="863.15" y="1179.4" width="2.6" height="2.6" fill="#fff" stroke="none" stroke-width="0" rx="0" />
<rect x="888.63" y="1180.1" width="4.8" height="1.2" fill="#fff" stroke="none" stroke-width="0" rx="0" />
<line x1="1491.9" y1="964.8" x2="1491.9" y2="1152" stroke="#a2a2a2" stroke-width="2.6" stroke-dasharray="15.5 4.8" stroke-dashoffset="8.7"/>
<path d="M1491.9 955.2 L1486.1 965 L1497.7 965 Z" fill="#000" stroke="none" stroke-width="0" stroke-linejoin="round" stroke-linecap="round" />
<text transform="translate(1491.55 943.7) scale(0.8851 1)" x="-20.12" y="0" font-family="Liberation Sans" font-size="48.3" fill="#000" stroke="#000" stroke-width="0.5">M</text>
<text transform="translate(1492.65 943.7) scale(0.8851 1)" x="-20.12" y="0" font-family="Liberation Sans" font-size="48.3" fill="#000" stroke="#000" stroke-width="0.5">M</text>
<line x1="1541.5" y1="964.8" x2="1541.5" y2="1152" stroke="#a2a2a2" stroke-width="2.6" stroke-dasharray="15.5 4.8" stroke-dashoffset="8.7"/>
<path d="M1541.5 955.2 L1535.7 965 L1547.3 965 Z" fill="#000" stroke="none" stroke-width="0" stroke-linejoin="round" stroke-linecap="round" />
<text transform="translate(1540.65 943.7) scale(0.8553 1)" x="-18.77" y="0" font-family="Liberation Sans" font-size="48.3" fill="#000" stroke="#000" stroke-width="0.5">O</text>
<text transform="translate(1541.75 943.7) scale(0.8553 1)" x="-18.77" y="0" font-family="Liberation Sans" font-size="48.3" fill="#000" stroke="#000" stroke-width="0.5">O</text>
<line x1="1457.1" y1="1385.7" x2="1457.1" y2="1199" stroke="#a2a2a2" stroke-width="2.6" stroke-dasharray="15.5 4.8" stroke-dashoffset="8.7"/>
<path d="M1457.1 1395.3 L1451.3 1385.5 L1462.9 1385.5 Z" fill="#000" stroke="none" stroke-width="0" stroke-linejoin="round" stroke-linecap="round" />
<text transform="translate(1458.95 1442.7) scale(0.864 1)" x="-14.61" y="0" font-family="Liberation Sans" font-size="48.3" fill="#000" stroke="#000" stroke-width="0.5">L</text>
<text transform="translate(1460.05 1442.7) scale(0.864 1)" x="-14.61" y="0" font-family="Liberation Sans" font-size="48.3" fill="#000" stroke="#000" stroke-width="0.5">L</text>
<line x1="1495.3" y1="1385.7" x2="1495.3" y2="1199" stroke="#a2a2a2" stroke-width="2.6" stroke-dasharray="15.5 4.8" stroke-dashoffset="8.7"/>
<path d="M1495.3 1395.3 L1489.5 1385.5 L1501.1 1385.5 Z" fill="#000" stroke="none" stroke-width="0" stroke-linejoin="round" stroke-linecap="round" />
<text transform="translate(1494.15 1442.7) scale(0.8858 1)" x="-17.45" y="0" font-family="Liberation Sans" font-size="48.3" fill="#000" stroke="#000" stroke-width="0.5">N</text>
<text transform="translate(1495.25 1442.7) scale(0.8858 1)" x="-17.45" y="0" font-family="Liberation Sans" font-size="48.3" fill="#000" stroke="#000" stroke-width="0.5">N</text>
<line x1="1651.3" y1="1385.7" x2="1651.3" y2="1203" stroke="#a2a2a2" stroke-width="2.6" stroke-dasharray="15.5 4.8" stroke-dashoffset="8.7"/>
<path d="M1651.3 1395.3 L1645.5 1385.5 L1657.1 1385.5 Z" fill="#000" stroke="none" stroke-width="0" stroke-linejoin="round" stroke-linecap="round" />
<text transform="translate(1652.55 1442.7) scale(0.809 1)" x="-16.82" y="0" font-family="Liberation Sans" font-size="48.3" fill="#000" stroke="#000" stroke-width="0.5">P</text>
<text transform="translate(1653.65 1442.7) scale(0.809 1)" x="-16.82" y="0" font-family="Liberation Sans" font-size="48.3" fill="#000" stroke="#000" stroke-width="0.5">P</text>
<line x1="1784.7" y1="1385.7" x2="1784.7" y2="1203" stroke="#a2a2a2" stroke-width="2.6" stroke-dasharray="15.5 4.8" stroke-dashoffset="8.7"/>
<path d="M1784.7 1395.3 L1778.9 1385.5 L1790.5 1385.5 Z" fill="#000" stroke="none" stroke-width="0" stroke-linejoin="round" stroke-linecap="round" />
<text transform="translate(1787.95 1442.7) scale(0.8796 1)" x="-18.77" y="0" font-family="Liberation Sans" font-size="48.3" fill="#000" stroke="#000" stroke-width="0.5">Q</text>
<text transform="translate(1789.05 1442.7) scale(0.8796 1)" x="-18.77" y="0" font-family="Liberation Sans" font-size="48.3" fill="#000" stroke="#000" stroke-width="0.5">Q</text>
<line x1="1914.4" y1="1385.7" x2="1914.4" y2="1203" stroke="#a2a2a2" stroke-width="2.6" stroke-dasharray="15.5 4.8" stroke-dashoffset="8.7"/>
<path d="M1914.4 1395.3 L1908.6 1385.5 L1920.2 1385.5 Z" fill="#000" stroke="none" stroke-width="0" stroke-linejoin="round" stroke-linecap="round" />
<text transform="translate(1916.15 1442.7) scale(0.8054 1)" x="-18.3" y="0" font-family="Liberation Sans" font-size="48.3" fill="#000" stroke="#000" stroke-width="0.5">R</text>
<text transform="translate(1917.25 1442.7) scale(0.8054 1)" x="-18.3" y="0" font-family="Liberation Sans" font-size="48.3" fill="#000" stroke="#000" stroke-width="0.5">R</text>
<line x1="2023.4" y1="1385.7" x2="2023.4" y2="1214" stroke="#a2a2a2" stroke-width="2.6" stroke-dasharray="15.5 4.8" stroke-dashoffset="8.7"/>
<path d="M2023.4 1395.3 L2017.6 1385.5 L2029.2 1385.5 Z" fill="#000" stroke="none" stroke-width="0" stroke-linejoin="round" stroke-linecap="round" />
<text transform="translate(2022.75 1442.7) scale(0.7912 1)" x="-16.1" y="0" font-family="Liberation Sans" font-size="48.3" fill="#000" stroke="#000" stroke-width="0.5">S</text>
<text transform="translate(2023.85 1442.7) scale(0.7912 1)" x="-16.1" y="0" font-family="Liberation Sans" font-size="48.3" fill="#000" stroke="#000" stroke-width="0.5">S</text>
<line x1="2110.9" y1="1385.7" x2="2110.9" y2="1214" stroke="#a2a2a2" stroke-width="2.6" stroke-dasharray="15.5 4.8" stroke-dashoffset="8.7"/>
<path d="M2110.9 1395.3 L2105.1 1385.5 L2116.7 1385.5 Z" fill="#000" stroke="none" stroke-width="0" stroke-linejoin="round" stroke-linecap="round" />
<text transform="translate(2111.05 1442.7) scale(0.8715 1)" x="-14.74" y="0" font-family="Liberation Sans" font-size="48.3" fill="#000" stroke="#000" stroke-width="0.5">T</text>
<text transform="translate(2112.15 1442.7) scale(0.8715 1)" x="-14.74" y="0" font-family="Liberation Sans" font-size="48.3" fill="#000" stroke="#000" stroke-width="0.5">T</text>
<g transform="translate(1249 0)">
<path d="M947.9 1248.2 L1024.5 1248.2 L1024.5 1261.3 L935 1261.3" fill="none" stroke="#000" stroke-width="3.4" stroke-linejoin="round" stroke-linecap="round" />
<line x1="1015.5" y1="1248" x2="1015.5" y2="1261.5" stroke="#000" stroke-width="2.6" />
<path d="M955.5 1072.8 L959.7 1099.9 L947.9 1101.4 L947.9 1115.8 L962.3 1117.6 L962.3 1126.8 L947.9 1128 L947.9 1143.4 L963.5 1144.6 L963.5 1153.2 L947.9 1155 L947.9 1169.1 L963.8 1170.9 L963.8 1179.5 L947.9 1181.4 L947.9 1195.5 L963.5 1196.7 L963.5 1205.9 L947.9 1207.1 L947.9 1221.8 L961 1223.7 L961 1233.5 L947.9 1234.1 L947.9 1248.2" fill="none" stroke="#000" stroke-width="3.5" stroke-linejoin="round" stroke-linecap="round" />
<path d="M955.5 1071.8 L902.5 1035.2 L891.5 1035.2 L890.2 1047 L892.5 1049.2 L902 1049.2 L926 1066 L926.5 1071.8" fill="none" stroke="#000" stroke-width="3" stroke-linejoin="round" stroke-linecap="round" />
<path d="M902.2 1072.8 V1066 Q902.2 1061.6 898.2 1061.6 H895.6 Q891.6 1061.6 891.6 1066 V1072.8" fill="none" stroke="#000" stroke-width="3" stroke-linejoin="round" stroke-linecap="round" />
<circle cx="922.2" cy="1114" r="5" fill="none" stroke="#000" stroke-width="3.2"/>
<circle cx="922.2" cy="1238.1" r="5" fill="none" stroke="#000" stroke-width="3.2"/>
<path d="M159.1 1248.2 L82.5 1248.2 L82.5 1261.3 L172 1261.3" fill="none" stroke="#000" stroke-width="3.4" stroke-linejoin="round" stroke-linecap="round" />
<line x1="91.5" y1="1248" x2="91.5" y2="1261.5" stroke="#000" stroke-width="2.6" />
<path d="M151.5 1072.8 L147.3 1099.9 L159.1 1101.4 L159.1 1115.8 L144.7 1117.6 L144.7 1126.8 L159.1 1128 L159.1 1143.4 L143.5 1144.6 L143.5 1153.2 L159.1 1155 L159.1 1169.1 L143.2 1170.9 L143.2 1179.5 L159.1 1181.4 L159.1 1195.5 L143.5 1196.7 L143.5 1205.9 L159.1 1207.1 L159.1 1221.8 L146 1223.7 L146 1233.5 L159.1 1234.1 L159.1 1248.2" fill="none" stroke="#000" stroke-width="3.5" stroke-linejoin="round" stroke-linecap="round" />
<path d="M151.5 1071.8 L204.5 1035.2 L215.5 1035.2 L216.8 1047 L214.5 1049.2 L205 1049.2 L181 1066 L180.5 1071.8" fill="none" stroke="#000" stroke-width="3" stroke-linejoin="round" stroke-linecap="round" />
<path d="M204.8 1072.8 V1066 Q204.8 1061.6 208.8 1061.6 H211.4 Q215.4 1061.6 215.4 1066 V1072.8" fill="none" stroke="#000" stroke-width="3" stroke-linejoin="round" stroke-linecap="round" />
<circle cx="184.8" cy="1114" r="5" fill="none" stroke="#000" stroke-width="3.2"/>
<circle cx="184.8" cy="1238.1" r="5" fill="none" stroke="#000" stroke-width="3.2"/>
<line x1="150.5" y1="1072.8" x2="956.5" y2="1072.8" stroke="#000" stroke-width="3.6" />
<line x1="172" y1="1257.5" x2="935" y2="1257.5" stroke="#000" stroke-width="2.5" />
<line x1="160" y1="1261.2" x2="947" y2="1261.2" stroke="#000" stroke-width="2.7" />
<path d="M175.2 1257.2 Q170.2 1252 170.2 1245 V1102 Q170.2 1099.5 172.2 1097.3 L184.7 1084.3 Q187.7 1082 191.7 1082 H915.3 Q919.3 1082 922.3 1084.3 L934.8 1097.3 Q936.8 1099.5 936.8 1102 V1245 Q936.8 1252 931.8 1257.2" fill="none" stroke="#000" stroke-width="3.2" stroke-linejoin="round" stroke-linecap="round" />
<path d="M251.2 1072.8 L253.3 1037.5 Q253.5 1035.2 255.5 1035.2 H259.5 Q261.5 1035.2 261.7 1037.5 L263.8 1072.8" fill="none" stroke="#000" stroke-width="2.8" stroke-linejoin="round" stroke-linecap="round" />
<path d="M296.76 1072.8 L298.86 1037.5 Q299.06 1035.2 301.06 1035.2 H305.06 Q307.06 1035.2 307.26 1037.5 L309.36 1072.8" fill="none" stroke="#000" stroke-width="2.8" stroke-linejoin="round" stroke-linecap="round" />
<path d="M342.32 1072.8 L344.42 1037.5 Q344.62 1035.2 346.62 1035.2 H350.62 Q352.62 1035.2 352.82 1037.5 L354.92 1072.8" fill="none" stroke="#000" stroke-width="2.8" stroke-linejoin="round" stroke-linecap="round" />
<path d="M387.88 1072.8 L389.98 1037.5 Q390.18 1035.2 392.18 1035.2 H396.18 Q398.18 1035.2 398.38 1037.5 L400.48 1072.8" fill="none" stroke="#000" stroke-width="2.8" stroke-linejoin="round" stroke-linecap="round" />
<path d="M433.44 1072.8 L435.54 1037.5 Q435.74 1035.2 437.74 1035.2 H441.74 Q443.74 1035.2 443.94 1037.5 L446.04 1072.8" fill="none" stroke="#000" stroke-width="2.8" stroke-linejoin="round" stroke-linecap="round" />
<path d="M479 1072.8 L481.1 1037.5 Q481.3 1035.2 483.3 1035.2 H487.3 Q489.3 1035.2 489.5 1037.5 L491.6 1072.8" fill="none" stroke="#000" stroke-width="2.8" stroke-linejoin="round" stroke-linecap="round" />
<path d="M524.56 1072.8 L526.66 1037.5 Q526.86 1035.2 528.86 1035.2 H532.86 Q534.86 1035.2 535.06 1037.5 L537.16 1072.8" fill="none" stroke="#000" stroke-width="2.8" stroke-linejoin="round" stroke-linecap="round" />
<path d="M570.12 1072.8 L572.22 1037.5 Q572.42 1035.2 574.42 1035.2 H578.42 Q580.42 1035.2 580.62 1037.5 L582.72 1072.8" fill="none" stroke="#000" stroke-width="2.8" stroke-linejoin="round" stroke-linecap="round" />
<path d="M615.68 1072.8 L617.78 1037.5 Q617.98 1035.2 619.98 1035.2 H623.98 Q625.98 1035.2 626.18 1037.5 L628.28 1072.8" fill="none" stroke="#000" stroke-width="2.8" stroke-linejoin="round" stroke-linecap="round" />
<path d="M661.24 1072.8 L663.34 1037.5 Q663.54 1035.2 665.54 1035.2 H669.54 Q671.54 1035.2 671.74 1037.5 L673.84 1072.8" fill="none" stroke="#000" stroke-width="2.8" stroke-linejoin="round" stroke-linecap="round" />
<path d="M706.8 1072.8 L708.9 1037.5 Q709.1 1035.2 711.1 1035.2 H715.1 Q717.1 1035.2 717.3 1037.5 L719.4 1072.8" fill="none" stroke="#000" stroke-width="2.8" stroke-linejoin="round" stroke-linecap="round" />
<path d="M752.36 1072.8 L754.46 1037.5 Q754.66 1035.2 756.66 1035.2 H760.66 Q762.66 1035.2 762.86 1037.5 L764.96 1072.8" fill="none" stroke="#000" stroke-width="2.8" stroke-linejoin="round" stroke-linecap="round" />
<path d="M797.92 1072.8 L800.02 1037.5 Q800.22 1035.2 802.22 1035.2 H806.22 Q808.22 1035.2 808.42 1037.5 L810.52 1072.8" fill="none" stroke="#000" stroke-width="2.8" stroke-linejoin="round" stroke-linecap="round" />
<path d="M843.48 1072.8 L845.58 1037.5 Q845.78 1035.2 847.78 1035.2 H851.78 Q853.78 1035.2 853.98 1037.5 L856.08 1072.8" fill="none" stroke="#000" stroke-width="2.8" stroke-linejoin="round" stroke-linecap="round" />
<path d="M228.5 1072.8 L229.7 1056.3 Q229.9 1054.3 231.9 1054.3 H237.9 Q239.9 1054.3 240.1 1056.3 L241.3 1072.8" fill="none" stroke="#000" stroke-width="2.8" stroke-linejoin="round" stroke-linecap="round" />
<path d="M274.06 1072.8 L275.26 1056.3 Q275.46 1054.3 277.46 1054.3 H283.46 Q285.46 1054.3 285.66 1056.3 L286.86 1072.8" fill="none" stroke="#000" stroke-width="2.8" stroke-linejoin="round" stroke-linecap="round" />
<path d="M319.62 1072.8 L320.82 1056.3 Q321.02 1054.3 323.02 1054.3 H329.02 Q331.02 1054.3 331.22 1056.3 L332.42 1072.8" fill="none" stroke="#000" stroke-width="2.8" stroke-linejoin="round" stroke-linecap="round" />
<path d="M365.18 1072.8 L366.38 1056.3 Q366.58 1054.3 368.58 1054.3 H374.58 Q376.58 1054.3 376.78 1056.3 L377.98 1072.8" fill="none" stroke="#000" stroke-width="2.8" stroke-linejoin="round" stroke-linecap="round" />
<path d="M410.74 1072.8 L411.94 1056.3 Q412.14 1054.3 414.14 1054.3 H420.14 Q422.14 1054.3 422.34 1056.3 L423.54 1072.8" fill="none" stroke="#000" stroke-width="2.8" stroke-linejoin="round" stroke-linecap="round" />
<path d="M456.3 1072.8 L457.5 1056.3 Q457.7 1054.3 459.7 1054.3 H465.7 Q467.7 1054.3 467.9 1056.3 L469.1 1072.8" fill="none" stroke="#000" stroke-width="2.8" stroke-linejoin="round" stroke-linecap="round" />
<path d="M501.86 1072.8 L503.06 1056.3 Q503.26 1054.3 505.26 1054.3 H511.26 Q513.26 1054.3 513.46 1056.3 L514.66 1072.8" fill="none" stroke="#000" stroke-width="2.8" stroke-linejoin="round" stroke-linecap="round" />
<path d="M547.42 1072.8 L548.62 1056.3 Q548.82 1054.3 550.82 1054.3 H556.82 Q558.82 1054.3 559.02 1056.3 L560.22 1072.8" fill="none" stroke="#000" stroke-width="2.8" stroke-linejoin="round" stroke-linecap="round" />
<path d="M592.98 1072.8 L594.18 1056.3 Q594.38 1054.3 596.38 1054.3 H602.38 Q604.38 1054.3 604.58 1056.3 L605.78 1072.8" fill="none" stroke="#000" stroke-width="2.8" stroke-linejoin="round" stroke-linecap="round" />
<path d="M638.54 1072.8 L639.74 1056.3 Q639.94 1054.3 641.94 1054.3 H647.94 Q649.94 1054.3 650.14 1056.3 L651.34 1072.8" fill="none" stroke="#000" stroke-width="2.8" stroke-linejoin="round" stroke-linecap="round" />
<path d="M684.1 1072.8 L685.3 1056.3 Q685.5 1054.3 687.5 1054.3 H693.5 Q695.5 1054.3 695.7 1056.3 L696.9 1072.8" fill="none" stroke="#000" stroke-width="2.8" stroke-linejoin="round" stroke-linecap="round" />
<path d="M729.66 1072.8 L730.86 1056.3 Q731.06 1054.3 733.06 1054.3 H739.06 Q741.06 1054.3 741.26 1056.3 L742.46 1072.8" fill="none" stroke="#000" stroke-width="2.8" stroke-linejoin="round" stroke-linecap="round" />
<path d="M775.22 1072.8 L776.42 1056.3 Q776.62 1054.3 778.62 1054.3 H784.62 Q786.62 1054.3 786.82 1056.3 L788.02 1072.8" fill="none" stroke="#000" stroke-width="2.8" stroke-linejoin="round" stroke-linecap="round" />
<path d="M820.78 1072.8 L821.98 1056.3 Q822.18 1054.3 824.18 1054.3 H830.18 Q832.18 1054.3 832.38 1056.3 L833.58 1072.8" fill="none" stroke="#000" stroke-width="2.8" stroke-linejoin="round" stroke-linecap="round" />
<path d="M866.34 1072.8 L867.54 1056.3 Q867.74 1054.3 869.74 1054.3 H875.74 Q877.74 1054.3 877.94 1056.3 L879.14 1072.8" fill="none" stroke="#000" stroke-width="2.8" stroke-linejoin="round" stroke-linecap="round" />
</g>
<text x="1477.8" y="1129.8" textLength="30.6" lengthAdjust="spacingAndGlyphs" font-family="Liberation Serif" font-weight="bold" font-size="16.8" fill="#000" stroke="#000" stroke-width="0.7">AUDIO</text>
<text x="1534.7" y="1129.8" textLength="13" lengthAdjust="spacingAndGlyphs" font-family="Liberation Serif" font-weight="bold" font-size="16.8" fill="#000" stroke="#000" stroke-width="0.7">DP</text>
<text x="1635" y="1129.8" textLength="24.6" lengthAdjust="spacingAndGlyphs" font-family="Liberation Serif" font-weight="bold" font-size="16.8" fill="#000" stroke="#000" stroke-width="0.7">COM5</text>
<text x="1767.5" y="1129.8" textLength="24.5" lengthAdjust="spacingAndGlyphs" font-family="Liberation Serif" font-weight="bold" font-size="16.8" fill="#000" stroke="#000" stroke-width="0.7">COM4</text>
<text x="1899.7" y="1129.8" textLength="23.9" lengthAdjust="spacingAndGlyphs" font-family="Liberation Serif" font-weight="bold" font-size="16.8" fill="#000" stroke="#000" stroke-width="0.7">COM3</text>
<text x="2001.7" y="1129.8" textLength="36.3" lengthAdjust="spacingAndGlyphs" font-family="Liberation Serif" font-weight="bold" font-size="16.8" fill="#000" stroke="#000" stroke-width="0.7">USB2.0</text>
<text x="2093.3" y="1129.8" textLength="36.4" lengthAdjust="spacingAndGlyphs" font-family="Liberation Serif" font-weight="bold" font-size="16.8" fill="#000" stroke="#000" stroke-width="0.7">USB3.0</text>
<text x="1450" y="1237.7" textLength="12.8" lengthAdjust="spacingAndGlyphs" font-family="Liberation Serif" font-weight="bold" font-size="17.5" fill="#000" stroke="#000" stroke-width="0.7">4G</text>
<text x="1483.2" y="1237.7" textLength="24.5" lengthAdjust="spacingAndGlyphs" font-family="Liberation Serif" font-weight="bold" font-size="17.5" fill="#000" stroke="#000" stroke-width="0.7">WIFI</text>
<circle cx="1492" cy="1164.7" r="9.45" fill="#fff" stroke="#000" stroke-width="8.7"/>
<path d="M1485.4 1170.7 A8.9 8.9 0 0 1 1495 1156.3" fill="none" stroke="#fff" stroke-width="0.7"/>
<circle cx="1456.9" cy="1206" r="10.9" fill="rgba(255,255,255,0.62)" stroke="#000" stroke-width="3.9"/>
<circle cx="1495.2" cy="1206" r="10.9" fill="rgba(255,255,255,0.62)" stroke="#000" stroke-width="3.9"/>
<path d="M1530.2 1150 H1553.3 Q1557.3 1150 1557.3 1154 V1214.8 L1548.6 1223.8 H1530.2 Q1526.2 1223.8 1526.2 1219.8 V1154 Q1526.2 1150 1530.2 1150 Z" fill="#000" stroke="#000" stroke-width="0.8" stroke-linejoin="round" stroke-linecap="round" />
<path d="M1535 1159 L1549.8 1159 L1549.8 1209.5 L1543.7 1215.4 L1535 1215.4 Z" fill="#fff" stroke="none" stroke-width="0" stroke-linejoin="round" stroke-linecap="round" />
<path d="M1538 1160.8 L1549.8 1160.8 L1549.8 1167 L1545.8 1167.5 L1546.4 1202.5 L1549.8 1203.5 L1549.8 1208.6 L1548.2 1210 L1538 1210 Z" fill="#000" stroke="none" stroke-width="0" stroke-linejoin="round" stroke-linecap="round" />
<path d="M1529 1217 L1532.7 1220.6 L1529.4 1220 Z" fill="#fff" stroke="none" stroke-width="0" stroke-linejoin="round" stroke-linecap="round" />
<line x1="1545.7" y1="1220.8" x2="1553.2" y2="1214.5" stroke="#fff" stroke-width="0.9" />
<path d="M1612.52 1170.44 L1610.56 1181.56 L1599.94 1185.43 L1591.28 1178.16 L1593.24 1167.04 L1603.86 1163.17 Z" fill="#000" stroke="#000" stroke-width="1.2" stroke-linejoin="round" stroke-linecap="round" />
<circle cx="1601.9" cy="1174.3" r="3.2" fill="#fff" stroke="none" stroke-width="0"/>
<path d="M1704.92 1170.44 L1702.96 1181.56 L1692.34 1185.43 L1683.68 1178.16 L1685.64 1167.04 L1696.26 1163.17 Z" fill="#000" stroke="#000" stroke-width="1.2" stroke-linejoin="round" stroke-linecap="round" />
<circle cx="1694.3" cy="1174.3" r="3.2" fill="#fff" stroke="none" stroke-width="0"/>
<path d="M1625.8 1153.9 H1670.4 Q1676.9 1153.9 1678.5 1162.3 L1685.8 1183.4 Q1687.9 1195.6 1674.9 1195.6 H1621.3 Q1608.3 1195.6 1610.4 1183.4 L1617.7 1162.3 Q1619.3 1153.9 1625.8 1153.9 Z" fill="#000" stroke="none" stroke-width="0" stroke-linejoin="round" stroke-linecap="round" />
<path d="M1628.6 1159.7 H1667.6 Q1672.1 1159.7 1673.3 1163.9 L1679.9 1182.3 Q1681.7 1189.7 1672.7 1189.7 H1623.5 Q1614.5 1189.7 1616.3 1182.3 L1622.9 1163.9 Q1624.1 1159.7 1628.6 1159.7 Z" fill="#fff" stroke="none" stroke-width="0" stroke-linejoin="round" stroke-linecap="round" />
<rect x="1630" y="1166.2" width="4.8" height="5.8" fill="#000" stroke="none" stroke-width="0" rx="1.6" />
<rect x="1640.47" y="1166.2" width="4.8" height="5.8" fill="#000" stroke="none" stroke-width="0" rx="1.6" />
<rect x="1650.94" y="1166.2" width="4.8" height="5.8" fill="#000" stroke="none" stroke-width="0" rx="1.6" />
<rect x="1661.41" y="1166.2" width="4.8" height="5.8" fill="#000" stroke="none" stroke-width="0" rx="1.6" />
<rect x="1625" y="1178.1" width="4.8" height="5.6" fill="#000" stroke="none" stroke-width="0" rx="1.6" />
<rect x="1635.42" y="1178.1" width="4.8" height="5.6" fill="#000" stroke="none" stroke-width="0" rx="1.6" />
<rect x="1645.84" y="1178.1" width="4.8" height="5.6" fill="#000" stroke="none" stroke-width="0" rx="1.6" />
<rect x="1656.26" y="1178.1" width="4.8" height="5.6" fill="#000" stroke="none" stroke-width="0" rx="1.6" />
<rect x="1666.68" y="1178.1" width="4.8" height="5.6" fill="#000" stroke="none" stroke-width="0" rx="1.6" />
<path d="M1744.92 1170.44 L1742.96 1181.56 L1732.34 1185.43 L1723.68 1178.16 L1725.64 1167.04 L1736.26 1163.17 Z" fill="#000" stroke="#000" stroke-width="1.2" stroke-linejoin="round" stroke-linecap="round" />
<circle cx="1734.3" cy="1174.3" r="3.2" fill="#fff" stroke="none" stroke-width="0"/>
<path d="M1837.32 1170.44 L1835.36 1181.56 L1824.74 1185.43 L1816.08 1178.16 L1818.04 1167.04 L1828.66 1163.17 Z" fill="#000" stroke="#000" stroke-width="1.2" stroke-linejoin="round" stroke-linecap="round" />
<circle cx="1826.7" cy="1174.3" r="3.2" fill="#fff" stroke="none" stroke-width="0"/>
<path d="M1758.2 1153.9 H1802.8 Q1809.3 1153.9 1810.9 1162.3 L1818.2 1183.4 Q1820.3 1195.6 1807.3 1195.6 H1753.7 Q1740.7 1195.6 1742.8 1183.4 L1750.1 1162.3 Q1751.7 1153.9 1758.2 1153.9 Z" fill="#000" stroke="none" stroke-width="0" stroke-linejoin="round" stroke-linecap="round" />
<path d="M1761 1159.7 H1800 Q1804.5 1159.7 1805.7 1163.9 L1812.3 1182.3 Q1814.1 1189.7 1805.1 1189.7 H1755.9 Q1746.9 1189.7 1748.7 1182.3 L1755.3 1163.9 Q1756.5 1159.7 1761 1159.7 Z" fill="#fff" stroke="none" stroke-width="0" stroke-linejoin="round" stroke-linecap="round" />
<rect x="1762.4" y="1166.2" width="4.8" height="5.8" fill="#000" stroke="none" stroke-width="0" rx="1.6" />
<rect x="1772.87" y="1166.2" width="4.8" height="5.8" fill="#000" stroke="none" stroke-width="0" rx="1.6" />
<rect x="1783.34" y="1166.2" width="4.8" height="5.8" fill="#000" stroke="none" stroke-width="0" rx="1.6" />
<rect x="1793.81" y="1166.2" width="4.8" height="5.8" fill="#000" stroke="none" stroke-width="0" rx="1.6" />
<rect x="1757.4" y="1178.1" width="4.8" height="5.6" fill="#000" stroke="none" stroke-width="0" rx="1.6" />
<rect x="1767.82" y="1178.1" width="4.8" height="5.6" fill="#000" stroke="none" stroke-width="0" rx="1.6" />
<rect x="1778.24" y="1178.1" width="4.8" height="5.6" fill="#000" stroke="none" stroke-width="0" rx="1.6" />
<rect x="1788.66" y="1178.1" width="4.8" height="5.6" fill="#000" stroke="none" stroke-width="0" rx="1.6" />
<rect x="1799.08" y="1178.1" width="4.8" height="5.6" fill="#000" stroke="none" stroke-width="0" rx="1.6" />
<path d="M1877.82 1170.44 L1875.86 1181.56 L1865.24 1185.43 L1856.58 1178.16 L1858.54 1167.04 L1869.16 1163.17 Z" fill="#000" stroke="#000" stroke-width="1.2" stroke-linejoin="round" stroke-linecap="round" />
<circle cx="1867.2" cy="1174.3" r="3.2" fill="#fff" stroke="none" stroke-width="0"/>
<path d="M1970.22 1170.44 L1968.26 1181.56 L1957.64 1185.43 L1948.98 1178.16 L1950.94 1167.04 L1961.56 1163.17 Z" fill="#000" stroke="#000" stroke-width="1.2" stroke-linejoin="round" stroke-linecap="round" />
<circle cx="1959.6" cy="1174.3" r="3.2" fill="#fff" stroke="none" stroke-width="0"/>
<path d="M1891.1 1153.9 H1935.7 Q1942.2 1153.9 1943.8 1162.3 L1951.1 1183.4 Q1953.2 1195.6 1940.2 1195.6 H1886.6 Q1873.6 1195.6 1875.7 1183.4 L1883 1162.3 Q1884.6 1153.9 1891.1 1153.9 Z" fill="#000" stroke="none" stroke-width="0" stroke-linejoin="round" stroke-linecap="round" />
<path d="M1893.9 1159.7 H1932.9 Q1937.4 1159.7 1938.6 1163.9 L1945.2 1182.3 Q1947 1189.7 1938 1189.7 H1888.8 Q1879.8 1189.7 1881.6 1182.3 L1888.2 1163.9 Q1889.4 1159.7 1893.9 1159.7 Z" fill="#fff" stroke="none" stroke-width="0" stroke-linejoin="round" stroke-linecap="round" />
<rect x="1895.3" y="1166.2" width="4.8" height="5.8" fill="#000" stroke="none" stroke-width="0" rx="1.6" />
<rect x="1905.77" y="1166.2" width="4.8" height="5.8" fill="#000" stroke="none" stroke-width="0" rx="1.6" />
<rect x="1916.24" y="1166.2" width="4.8" height="5.8" fill="#000" stroke="none" stroke-width="0" rx="1.6" />
<rect x="1926.71" y="1166.2" width="4.8" height="5.8" fill="#000" stroke="none" stroke-width="0" rx="1.6" />
<rect x="1890.3" y="1178.1" width="4.8" height="5.6" fill="#000" stroke="none" stroke-width="0" rx="1.6" />
<rect x="1900.72" y="1178.1" width="4.8" height="5.6" fill="#000" stroke="none" stroke-width="0" rx="1.6" />
<rect x="1911.14" y="1178.1" width="4.8" height="5.6" fill="#000" stroke="none" stroke-width="0" rx="1.6" />
<rect x="1921.56" y="1178.1" width="4.8" height="5.6" fill="#000" stroke="none" stroke-width="0" rx="1.6" />
<rect x="1931.98" y="1178.1" width="4.8" height="5.6" fill="#000" stroke="none" stroke-width="0" rx="1.6" />
<rect x="1990.4" y="1150" width="61.8" height="66.4" fill="#000" stroke="none" stroke-width="0" rx="5" />
<path d="M1998.8 1159.4 L2005 1159.4 L2006 1161.8 L2037 1161.8 L2038 1159.4 L2043.8 1159.4 L2040.4 1165.7 L2002.6 1165.7 Z" fill="#fff" stroke="none" stroke-width="0" stroke-linejoin="round" stroke-linecap="round" />
<rect x="2005.9" y="1163.4" width="5.2" height="2.4" fill="#000" stroke="none" stroke-width="0" rx="0" />
<rect x="2015" y="1163.4" width="5.2" height="2.4" fill="#000" stroke="none" stroke-width="0" rx="0" />
<rect x="2022.4" y="1163.4" width="5.2" height="2.4" fill="#000" stroke="none" stroke-width="0" rx="0" />
<rect x="2031.2" y="1163.4" width="5.2" height="2.4" fill="#000" stroke="none" stroke-width="0" rx="0" />
<rect x="2003.3" y="1169.7" width="35.8" height="1.9" fill="#fff" stroke="none" stroke-width="0" rx="0" />
<path d="M1998.8 1192 L2005 1192 L2006 1194.4 L2037 1194.4 L2038 1192 L2043.8 1192 L2040.4 1198.3 L2002.6 1198.3 Z" fill="#fff" stroke="none" stroke-width="0" stroke-linejoin="round" stroke-linecap="round" />
<rect x="2005.9" y="1196" width="5.2" height="2.4" fill="#000" stroke="none" stroke-width="0" rx="0" />
<rect x="2015" y="1196" width="5.2" height="2.4" fill="#000" stroke="none" stroke-width="0" rx="0" />
<rect x="2022.4" y="1196" width="5.2" height="2.4" fill="#000" stroke="none" stroke-width="0" rx="0" />
<rect x="2031.2" y="1196" width="5.2" height="2.4" fill="#000" stroke="none" stroke-width="0" rx="0" />
<rect x="2003.3" y="1201.9" width="35.8" height="1.8" fill="#fff" stroke="none" stroke-width="0" rx="0" />
<rect x="1998.8" y="1181.9" width="4.6" height="3.4" fill="#fff" stroke="none" stroke-width="0" rx="0" />
<rect x="2004.6" y="1179.8" width="5.1" height="7.6" fill="#fff" stroke="none" stroke-width="0" rx="0" />
<rect x="2012.4" y="1182.6" width="3.4" height="2" fill="#fff" stroke="none" stroke-width="0" rx="0" />
<rect x="2019" y="1181.6" width="4.3" height="4" fill="#fff" stroke="none" stroke-width="0" rx="0" />
<rect x="2026.6" y="1182.6" width="3.6" height="2" fill="#fff" stroke="none" stroke-width="0" rx="0" />
<rect x="2032.9" y="1179.8" width="5.2" height="7.6" fill="#fff" stroke="none" stroke-width="0" rx="0" />
<rect x="2039.6" y="1181.9" width="4.5" height="3.4" fill="#fff" stroke="none" stroke-width="0" rx="0" />
<rect x="2047.4" y="1175.7" width="2.4" height="10" fill="#fff" stroke="none" stroke-width="0" rx="0" />
<path d="M1993 1209.5 L1998.2 1214 L1993.8 1214 Z" fill="#fff" stroke="none" stroke-width="0" stroke-linejoin="round" stroke-linecap="round" />
<path d="M2049.6 1209.5 L2044.4 1214 L2048.8 1214 Z" fill="#fff" stroke="none" stroke-width="0" stroke-linejoin="round" stroke-linecap="round" />
<rect x="2017.9" y="1211.8" width="6.5" height="2.2" fill="#fff" stroke="none" stroke-width="0" rx="0" />
<rect x="2016.9" y="1153" width="8.5" height="1" fill="#bbb" stroke="none" stroke-width="0" rx="0" />
<rect x="2078.2" y="1150" width="61.8" height="66.4" fill="#000" stroke="none" stroke-width="0" rx="5" />
<path d="M2086.6 1159.4 L2092.8 1159.4 L2093.8 1161.8 L2124.8 1161.8 L2125.8 1159.4 L2131.6 1159.4 L2128.2 1165.7 L2090.4 1165.7 Z" fill="#fff" stroke="none" stroke-width="0" stroke-linejoin="round" stroke-linecap="round" />
<rect x="2093.7" y="1163.4" width="5.2" height="2.4" fill="#000" stroke="none" stroke-width="0" rx="0" />
<rect x="2102.8" y="1163.4" width="5.2" height="2.4" fill="#000" stroke="none" stroke-width="0" rx="0" />
<rect x="2110.2" y="1163.4" width="5.2" height="2.4" fill="#000" stroke="none" stroke-width="0" rx="0" />
<rect x="2119" y="1163.4" width="5.2" height="2.4" fill="#000" stroke="none" stroke-width="0" rx="0" />
<rect x="2091.1" y="1169.7" width="35.8" height="1.9" fill="#fff" stroke="none" stroke-width="0" rx="0" />
<path d="M2086.6 1192 L2092.8 1192 L2093.8 1194.4 L2124.8 1194.4 L2125.8 1192 L2131.6 1192 L2128.2 1198.3 L2090.4 1198.3 Z" fill="#fff" stroke="none" stroke-width="0" stroke-linejoin="round" stroke-linecap="round" />
<rect x="2093.7" y="1196" width="5.2" height="2.4" fill="#000" stroke="none" stroke-width="0" rx="0" />
<rect x="2102.8" y="1196" width="5.2" height="2.4" fill="#000" stroke="none" stroke-width="0" rx="0" />
<rect x="2110.2" y="1196" width="5.2" height="2.4" fill="#000" stroke="none" stroke-width="0" rx="0" />
<rect x="2119" y="1196" width="5.2" height="2.4" fill="#000" stroke="none" stroke-width="0" rx="0" />
<rect x="2091.1" y="1201.9" width="35.8" height="1.8" fill="#fff" stroke="none" stroke-width="0" rx="0" />
<rect x="2086.6" y="1181.9" width="4.6" height="3.4" fill="#fff" stroke="none" stroke-width="0" rx="0" />
<rect x="2092.4" y="1179.8" width="5.1" height="7.6" fill="#fff" stroke="none" stroke-width="0" rx="0" />
<rect x="2100.2" y="1182.6" width="3.4" height="2" fill="#fff" stroke="none" stroke-width="0" rx="0" />
<rect x="2106.8" y="1181.6" width="4.3" height="4" fill="#fff" stroke="none" stroke-width="0" rx="0" />
<rect x="2114.4" y="1182.6" width="3.6" height="2" fill="#fff" stroke="none" stroke-width="0" rx="0" />
<rect x="2120.7" y="1179.8" width="5.2" height="7.6" fill="#fff" stroke="none" stroke-width="0" rx="0" />
<rect x="2127.4" y="1181.9" width="4.5" height="3.4" fill="#fff" stroke="none" stroke-width="0" rx="0" />
<rect x="2135.2" y="1175.7" width="2.4" height="10" fill="#fff" stroke="none" stroke-width="0" rx="0" />
<path d="M2080.8 1209.5 L2086 1214 L2081.6 1214 Z" fill="#fff" stroke="none" stroke-width="0" stroke-linejoin="round" stroke-linecap="round" />
<path d="M2137.4 1209.5 L2132.2 1214 L2136.6 1214 Z" fill="#fff" stroke="none" stroke-width="0" stroke-linejoin="round" stroke-linecap="round" />
<rect x="2105.7" y="1211.8" width="6.5" height="2.2" fill="#fff" stroke="none" stroke-width="0" rx="0" />
<rect x="2104.7" y="1153" width="8.5" height="1" fill="#bbb" stroke="none" stroke-width="0" rx="0" />
</g>
</svg>
</body></html>
